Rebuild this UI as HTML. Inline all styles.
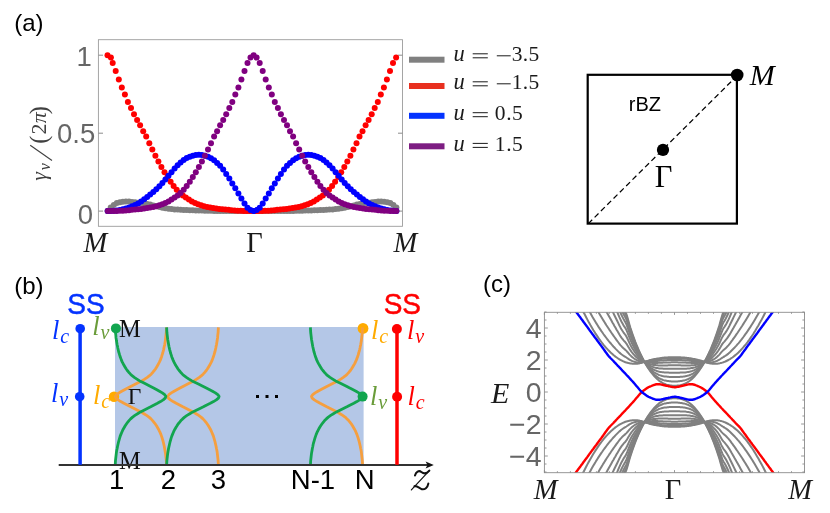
<!DOCTYPE html>
<html><head><meta charset="utf-8"><title>figure</title>
<style>html,body{margin:0;padding:0;background:#fff}svg{display:block;will-change:transform}</style></head>
<body><svg width="830" height="513" viewBox="0 0 830 513">
<rect width="830" height="513" fill="#fff"/>
<g id="pa">
<rect x="98.4" y="39.7" width="304.1" height="186.6" fill="none" stroke="#9c9c9c" stroke-width="0.9"/>
<path d="M98.5 211.1h4.5M402.5 211.1h-4.5" stroke="#8c8c8c" stroke-width="1" fill="none"/>
<path d="M98.5 133.2h4.5M402.5 133.2h-4.5" stroke="#8c8c8c" stroke-width="1" fill="none"/>
<path d="M98.5 55.2h4.5M402.5 55.2h-4.5" stroke="#8c8c8c" stroke-width="1" fill="none"/>
<g fill="#808080"><circle cx="107.7" cy="211.1" r="3.0"/><circle cx="110.7" cy="207.5" r="3.0"/><circle cx="113.8" cy="205.0" r="3.0"/><circle cx="116.8" cy="203.1" r="3.0"/><circle cx="119.9" cy="202.2" r="3.0"/><circle cx="122.9" cy="201.7" r="3.0"/><circle cx="125.9" cy="201.6" r="3.0"/><circle cx="129.0" cy="201.6" r="3.0"/><circle cx="132.0" cy="201.9" r="3.0"/><circle cx="135.1" cy="202.3" r="3.0"/><circle cx="138.1" cy="202.7" r="3.0"/><circle cx="141.1" cy="203.1" r="3.0"/><circle cx="144.2" cy="203.5" r="3.0"/><circle cx="147.2" cy="204.0" r="3.0"/><circle cx="150.2" cy="204.6" r="3.0"/><circle cx="153.3" cy="205.4" r="3.0"/><circle cx="156.3" cy="206.3" r="3.0"/><circle cx="159.4" cy="207.1" r="3.0"/><circle cx="162.4" cy="207.7" r="3.0"/><circle cx="165.4" cy="208.2" r="3.0"/><circle cx="168.5" cy="208.7" r="3.0"/><circle cx="171.5" cy="209.1" r="3.0"/><circle cx="174.6" cy="209.4" r="3.0"/><circle cx="177.6" cy="209.6" r="3.0"/><circle cx="180.6" cy="209.8" r="3.0"/><circle cx="183.7" cy="210.0" r="3.0"/><circle cx="186.7" cy="210.1" r="3.0"/><circle cx="189.8" cy="210.2" r="3.0"/><circle cx="192.8" cy="210.3" r="3.0"/><circle cx="195.8" cy="210.4" r="3.0"/><circle cx="198.9" cy="210.5" r="3.0"/><circle cx="201.9" cy="210.6" r="3.0"/><circle cx="204.9" cy="210.7" r="3.0"/><circle cx="208.0" cy="210.8" r="3.0"/><circle cx="211.0" cy="210.8" r="3.0"/><circle cx="214.1" cy="210.9" r="3.0"/><circle cx="217.1" cy="210.9" r="3.0"/><circle cx="220.1" cy="211.0" r="3.0"/><circle cx="223.2" cy="211.0" r="3.0"/><circle cx="226.2" cy="211.0" r="3.0"/><circle cx="229.3" cy="211.0" r="3.0"/><circle cx="232.3" cy="211.0" r="3.0"/><circle cx="235.3" cy="211.1" r="3.0"/><circle cx="238.4" cy="211.1" r="3.0"/><circle cx="241.4" cy="211.1" r="3.0"/><circle cx="244.5" cy="211.1" r="3.0"/><circle cx="247.5" cy="211.1" r="3.0"/><circle cx="250.5" cy="211.1" r="3.0"/><circle cx="253.6" cy="211.1" r="3.0"/><circle cx="256.6" cy="211.1" r="3.0"/><circle cx="259.7" cy="211.1" r="3.0"/><circle cx="262.7" cy="211.1" r="3.0"/><circle cx="265.7" cy="211.1" r="3.0"/><circle cx="268.8" cy="211.1" r="3.0"/><circle cx="271.8" cy="211.1" r="3.0"/><circle cx="274.8" cy="211.0" r="3.0"/><circle cx="277.9" cy="211.0" r="3.0"/><circle cx="280.9" cy="211.0" r="3.0"/><circle cx="284.0" cy="211.0" r="3.0"/><circle cx="287.0" cy="211.0" r="3.0"/><circle cx="290.0" cy="210.9" r="3.0"/><circle cx="293.1" cy="210.9" r="3.0"/><circle cx="296.1" cy="210.8" r="3.0"/><circle cx="299.2" cy="210.8" r="3.0"/><circle cx="302.2" cy="210.7" r="3.0"/><circle cx="305.2" cy="210.6" r="3.0"/><circle cx="308.3" cy="210.5" r="3.0"/><circle cx="311.3" cy="210.4" r="3.0"/><circle cx="314.4" cy="210.3" r="3.0"/><circle cx="317.4" cy="210.2" r="3.0"/><circle cx="320.4" cy="210.1" r="3.0"/><circle cx="323.5" cy="210.0" r="3.0"/><circle cx="326.5" cy="209.8" r="3.0"/><circle cx="329.5" cy="209.6" r="3.0"/><circle cx="332.6" cy="209.4" r="3.0"/><circle cx="335.6" cy="209.1" r="3.0"/><circle cx="338.7" cy="208.7" r="3.0"/><circle cx="341.7" cy="208.2" r="3.0"/><circle cx="344.7" cy="207.7" r="3.0"/><circle cx="347.8" cy="207.1" r="3.0"/><circle cx="350.8" cy="206.3" r="3.0"/><circle cx="353.9" cy="205.4" r="3.0"/><circle cx="356.9" cy="204.6" r="3.0"/><circle cx="359.9" cy="204.0" r="3.0"/><circle cx="363.0" cy="203.5" r="3.0"/><circle cx="366.0" cy="203.1" r="3.0"/><circle cx="369.1" cy="202.7" r="3.0"/><circle cx="372.1" cy="202.3" r="3.0"/><circle cx="375.1" cy="201.9" r="3.0"/><circle cx="378.2" cy="201.6" r="3.0"/><circle cx="381.2" cy="201.6" r="3.0"/><circle cx="384.2" cy="201.7" r="3.0"/><circle cx="387.3" cy="202.2" r="3.0"/><circle cx="390.3" cy="203.1" r="3.0"/><circle cx="393.4" cy="205.0" r="3.0"/><circle cx="396.4" cy="207.5" r="3.0"/></g>
<g fill="#ff0000"><circle cx="107.5" cy="55.2" r="3.0"/><circle cx="110.9" cy="57.6" r="3.0"/><circle cx="112.7" cy="63.0" r="3.0"/><circle cx="115.7" cy="70.9" r="3.0"/><circle cx="118.8" cy="79.4" r="3.0"/><circle cx="121.8" cy="87.4" r="3.0"/><circle cx="124.9" cy="94.5" r="3.0"/><circle cx="127.9" cy="101.9" r="3.0"/><circle cx="131.0" cy="108.1" r="3.0"/><circle cx="134.0" cy="114.3" r="3.0"/><circle cx="137.1" cy="120.0" r="3.0"/><circle cx="140.1" cy="125.3" r="3.0"/><circle cx="143.2" cy="131.3" r="3.0"/><circle cx="146.2" cy="136.4" r="3.0"/><circle cx="149.3" cy="143.3" r="3.0"/><circle cx="152.3" cy="149.6" r="3.0"/><circle cx="155.4" cy="155.7" r="3.0"/><circle cx="158.4" cy="161.4" r="3.0"/><circle cx="161.4" cy="166.9" r="3.0"/><circle cx="164.5" cy="172.2" r="3.0"/><circle cx="167.5" cy="177.1" r="3.0"/><circle cx="170.6" cy="181.7" r="3.0"/><circle cx="173.6" cy="186.0" r="3.0"/><circle cx="176.7" cy="189.8" r="3.0"/><circle cx="179.7" cy="192.9" r="3.0"/><circle cx="182.8" cy="195.4" r="3.0"/><circle cx="185.8" cy="197.6" r="3.0"/><circle cx="188.9" cy="199.6" r="3.0"/><circle cx="191.9" cy="201.4" r="3.0"/><circle cx="195.0" cy="203.0" r="3.0"/><circle cx="198.0" cy="204.3" r="3.0"/><circle cx="201.1" cy="205.3" r="3.0"/><circle cx="204.1" cy="206.2" r="3.0"/><circle cx="207.2" cy="206.9" r="3.0"/><circle cx="210.2" cy="207.6" r="3.0"/><circle cx="213.2" cy="208.1" r="3.0"/><circle cx="216.3" cy="208.6" r="3.0"/><circle cx="219.3" cy="209.0" r="3.0"/><circle cx="222.4" cy="209.3" r="3.0"/><circle cx="225.4" cy="209.5" r="3.0"/><circle cx="228.5" cy="209.8" r="3.0"/><circle cx="231.5" cy="210.2" r="3.0"/><circle cx="234.6" cy="210.5" r="3.0"/><circle cx="237.6" cy="210.7" r="3.0"/><circle cx="240.7" cy="210.8" r="3.0"/><circle cx="243.7" cy="210.9" r="3.0"/><circle cx="246.8" cy="211.0" r="3.0"/><circle cx="249.8" cy="211.1" r="3.0"/><circle cx="252.9" cy="211.1" r="3.0"/><circle cx="255.9" cy="211.1" r="3.0"/><circle cx="258.9" cy="211.0" r="3.0"/><circle cx="262.0" cy="210.9" r="3.0"/><circle cx="265.0" cy="210.8" r="3.0"/><circle cx="268.1" cy="210.7" r="3.0"/><circle cx="271.1" cy="210.5" r="3.0"/><circle cx="274.2" cy="210.2" r="3.0"/><circle cx="277.2" cy="209.8" r="3.0"/><circle cx="280.3" cy="209.5" r="3.0"/><circle cx="283.3" cy="209.3" r="3.0"/><circle cx="286.4" cy="209.0" r="3.0"/><circle cx="289.4" cy="208.6" r="3.0"/><circle cx="292.5" cy="208.1" r="3.0"/><circle cx="295.5" cy="207.6" r="3.0"/><circle cx="298.6" cy="206.9" r="3.0"/><circle cx="301.6" cy="206.2" r="3.0"/><circle cx="304.7" cy="205.3" r="3.0"/><circle cx="307.7" cy="204.3" r="3.0"/><circle cx="310.7" cy="203.0" r="3.0"/><circle cx="313.8" cy="201.4" r="3.0"/><circle cx="316.8" cy="199.6" r="3.0"/><circle cx="319.9" cy="197.6" r="3.0"/><circle cx="322.9" cy="195.4" r="3.0"/><circle cx="326.0" cy="192.9" r="3.0"/><circle cx="329.0" cy="189.8" r="3.0"/><circle cx="332.1" cy="186.0" r="3.0"/><circle cx="335.1" cy="181.7" r="3.0"/><circle cx="338.2" cy="177.1" r="3.0"/><circle cx="341.2" cy="172.2" r="3.0"/><circle cx="344.3" cy="166.9" r="3.0"/><circle cx="347.3" cy="161.4" r="3.0"/><circle cx="350.4" cy="155.7" r="3.0"/><circle cx="353.4" cy="149.6" r="3.0"/><circle cx="356.5" cy="143.3" r="3.0"/><circle cx="359.5" cy="136.4" r="3.0"/><circle cx="362.5" cy="131.3" r="3.0"/><circle cx="365.6" cy="125.3" r="3.0"/><circle cx="368.6" cy="120.0" r="3.0"/><circle cx="371.7" cy="114.3" r="3.0"/><circle cx="374.7" cy="108.1" r="3.0"/><circle cx="377.8" cy="101.9" r="3.0"/><circle cx="380.8" cy="94.5" r="3.0"/><circle cx="383.9" cy="87.4" r="3.0"/><circle cx="386.9" cy="79.4" r="3.0"/><circle cx="390.0" cy="70.9" r="3.0"/><circle cx="393.0" cy="63.0" r="3.0"/><circle cx="396.1" cy="57.6" r="3.0"/></g>
<g fill="#0000ff"><circle cx="107.7" cy="211.1" r="3.0"/><circle cx="110.7" cy="211.0" r="3.0"/><circle cx="113.8" cy="210.8" r="3.0"/><circle cx="116.8" cy="210.5" r="3.0"/><circle cx="119.9" cy="210.0" r="3.0"/><circle cx="122.9" cy="209.3" r="3.0"/><circle cx="125.9" cy="208.5" r="3.0"/><circle cx="129.0" cy="207.5" r="3.0"/><circle cx="132.0" cy="206.3" r="3.0"/><circle cx="135.1" cy="204.9" r="3.0"/><circle cx="138.1" cy="203.4" r="3.0"/><circle cx="141.1" cy="201.5" r="3.0"/><circle cx="144.2" cy="199.3" r="3.0"/><circle cx="147.2" cy="197.0" r="3.0"/><circle cx="150.2" cy="194.6" r="3.0"/><circle cx="153.3" cy="192.1" r="3.0"/><circle cx="156.3" cy="189.3" r="3.0"/><circle cx="159.4" cy="186.3" r="3.0"/><circle cx="162.4" cy="183.1" r="3.0"/><circle cx="165.4" cy="179.4" r="3.0"/><circle cx="168.5" cy="175.7" r="3.0"/><circle cx="171.5" cy="172.2" r="3.0"/><circle cx="174.6" cy="168.6" r="3.0"/><circle cx="177.6" cy="165.3" r="3.0"/><circle cx="180.6" cy="162.6" r="3.0"/><circle cx="183.7" cy="160.1" r="3.0"/><circle cx="186.7" cy="158.0" r="3.0"/><circle cx="189.8" cy="156.7" r="3.0"/><circle cx="192.8" cy="155.7" r="3.0"/><circle cx="195.8" cy="154.9" r="3.0"/><circle cx="198.9" cy="154.7" r="3.0"/><circle cx="201.9" cy="155.0" r="3.0"/><circle cx="204.9" cy="155.8" r="3.0"/><circle cx="208.0" cy="156.8" r="3.0"/><circle cx="211.0" cy="158.2" r="3.0"/><circle cx="214.1" cy="160.3" r="3.0"/><circle cx="217.1" cy="162.9" r="3.0"/><circle cx="220.1" cy="165.8" r="3.0"/><circle cx="223.2" cy="169.6" r="3.0"/><circle cx="226.2" cy="173.9" r="3.0"/><circle cx="229.3" cy="178.4" r="3.0"/><circle cx="232.3" cy="183.4" r="3.0"/><circle cx="235.3" cy="188.3" r="3.0"/><circle cx="238.4" cy="193.6" r="3.0"/><circle cx="241.4" cy="198.4" r="3.0"/><circle cx="244.5" cy="203.5" r="3.0"/><circle cx="247.5" cy="207.8" r="3.0"/><circle cx="250.5" cy="210.1" r="3.0"/><circle cx="253.6" cy="211.1" r="3.0"/><circle cx="256.6" cy="210.1" r="3.0"/><circle cx="259.7" cy="207.8" r="3.0"/><circle cx="262.7" cy="203.5" r="3.0"/><circle cx="265.7" cy="198.4" r="3.0"/><circle cx="268.8" cy="193.6" r="3.0"/><circle cx="271.8" cy="188.3" r="3.0"/><circle cx="274.8" cy="183.4" r="3.0"/><circle cx="277.9" cy="178.4" r="3.0"/><circle cx="280.9" cy="173.9" r="3.0"/><circle cx="284.0" cy="169.6" r="3.0"/><circle cx="287.0" cy="165.8" r="3.0"/><circle cx="290.0" cy="162.9" r="3.0"/><circle cx="293.1" cy="160.3" r="3.0"/><circle cx="296.1" cy="158.2" r="3.0"/><circle cx="299.2" cy="156.8" r="3.0"/><circle cx="302.2" cy="155.8" r="3.0"/><circle cx="305.2" cy="155.0" r="3.0"/><circle cx="308.3" cy="154.7" r="3.0"/><circle cx="311.3" cy="154.9" r="3.0"/><circle cx="314.4" cy="155.7" r="3.0"/><circle cx="317.4" cy="156.7" r="3.0"/><circle cx="320.4" cy="158.0" r="3.0"/><circle cx="323.5" cy="160.1" r="3.0"/><circle cx="326.5" cy="162.6" r="3.0"/><circle cx="329.5" cy="165.3" r="3.0"/><circle cx="332.6" cy="168.6" r="3.0"/><circle cx="335.6" cy="172.2" r="3.0"/><circle cx="338.7" cy="175.7" r="3.0"/><circle cx="341.7" cy="179.4" r="3.0"/><circle cx="344.7" cy="183.1" r="3.0"/><circle cx="347.8" cy="186.3" r="3.0"/><circle cx="350.8" cy="189.3" r="3.0"/><circle cx="353.9" cy="192.1" r="3.0"/><circle cx="356.9" cy="194.6" r="3.0"/><circle cx="359.9" cy="197.0" r="3.0"/><circle cx="363.0" cy="199.3" r="3.0"/><circle cx="366.0" cy="201.5" r="3.0"/><circle cx="369.1" cy="203.4" r="3.0"/><circle cx="372.1" cy="204.9" r="3.0"/><circle cx="375.1" cy="206.3" r="3.0"/><circle cx="378.2" cy="207.5" r="3.0"/><circle cx="381.2" cy="208.5" r="3.0"/><circle cx="384.2" cy="209.3" r="3.0"/><circle cx="387.3" cy="210.0" r="3.0"/><circle cx="390.3" cy="210.5" r="3.0"/><circle cx="393.4" cy="210.8" r="3.0"/><circle cx="396.4" cy="211.0" r="3.0"/></g>
<g fill="#800080"><circle cx="107.7" cy="211.1" r="3.0"/><circle cx="110.7" cy="211.1" r="3.0"/><circle cx="113.8" cy="211.0" r="3.0"/><circle cx="116.8" cy="210.9" r="3.0"/><circle cx="119.9" cy="210.8" r="3.0"/><circle cx="122.9" cy="210.7" r="3.0"/><circle cx="125.9" cy="210.5" r="3.0"/><circle cx="129.0" cy="210.2" r="3.0"/><circle cx="132.0" cy="209.8" r="3.0"/><circle cx="135.1" cy="209.5" r="3.0"/><circle cx="138.1" cy="209.3" r="3.0"/><circle cx="141.1" cy="209.0" r="3.0"/><circle cx="144.2" cy="208.6" r="3.0"/><circle cx="147.2" cy="208.1" r="3.0"/><circle cx="150.2" cy="207.6" r="3.0"/><circle cx="153.3" cy="206.9" r="3.0"/><circle cx="156.3" cy="206.2" r="3.0"/><circle cx="159.4" cy="205.3" r="3.0"/><circle cx="162.4" cy="204.3" r="3.0"/><circle cx="165.4" cy="203.0" r="3.0"/><circle cx="168.5" cy="201.4" r="3.0"/><circle cx="171.5" cy="199.6" r="3.0"/><circle cx="174.6" cy="197.6" r="3.0"/><circle cx="177.6" cy="195.4" r="3.0"/><circle cx="180.6" cy="192.9" r="3.0"/><circle cx="183.7" cy="189.8" r="3.0"/><circle cx="186.7" cy="186.0" r="3.0"/><circle cx="189.8" cy="181.7" r="3.0"/><circle cx="192.8" cy="177.1" r="3.0"/><circle cx="195.8" cy="172.2" r="3.0"/><circle cx="198.9" cy="166.9" r="3.0"/><circle cx="201.9" cy="161.4" r="3.0"/><circle cx="204.9" cy="155.7" r="3.0"/><circle cx="208.0" cy="149.6" r="3.0"/><circle cx="211.0" cy="143.3" r="3.0"/><circle cx="214.1" cy="136.4" r="3.0"/><circle cx="217.1" cy="131.3" r="3.0"/><circle cx="220.1" cy="125.3" r="3.0"/><circle cx="223.2" cy="120.0" r="3.0"/><circle cx="226.2" cy="114.3" r="3.0"/><circle cx="229.3" cy="108.1" r="3.0"/><circle cx="232.3" cy="101.9" r="3.0"/><circle cx="235.3" cy="94.5" r="3.0"/><circle cx="238.4" cy="87.4" r="3.0"/><circle cx="241.4" cy="79.4" r="3.0"/><circle cx="244.5" cy="70.9" r="3.0"/><circle cx="247.5" cy="63.0" r="3.0"/><circle cx="250.5" cy="57.6" r="3.0"/><circle cx="253.6" cy="55.2" r="3.0"/><circle cx="256.6" cy="57.6" r="3.0"/><circle cx="259.7" cy="63.0" r="3.0"/><circle cx="262.7" cy="70.9" r="3.0"/><circle cx="265.7" cy="79.4" r="3.0"/><circle cx="268.8" cy="87.4" r="3.0"/><circle cx="271.8" cy="94.5" r="3.0"/><circle cx="274.8" cy="101.9" r="3.0"/><circle cx="277.9" cy="108.1" r="3.0"/><circle cx="280.9" cy="114.3" r="3.0"/><circle cx="284.0" cy="120.0" r="3.0"/><circle cx="287.0" cy="125.3" r="3.0"/><circle cx="290.0" cy="131.3" r="3.0"/><circle cx="293.1" cy="136.4" r="3.0"/><circle cx="296.1" cy="143.3" r="3.0"/><circle cx="299.2" cy="149.6" r="3.0"/><circle cx="302.2" cy="155.7" r="3.0"/><circle cx="305.2" cy="161.4" r="3.0"/><circle cx="308.3" cy="166.9" r="3.0"/><circle cx="311.3" cy="172.2" r="3.0"/><circle cx="314.4" cy="177.1" r="3.0"/><circle cx="317.4" cy="181.7" r="3.0"/><circle cx="320.4" cy="186.0" r="3.0"/><circle cx="323.5" cy="189.8" r="3.0"/><circle cx="326.5" cy="192.9" r="3.0"/><circle cx="329.5" cy="195.4" r="3.0"/><circle cx="332.6" cy="197.6" r="3.0"/><circle cx="335.6" cy="199.6" r="3.0"/><circle cx="338.7" cy="201.4" r="3.0"/><circle cx="341.7" cy="203.0" r="3.0"/><circle cx="344.7" cy="204.3" r="3.0"/><circle cx="347.8" cy="205.3" r="3.0"/><circle cx="350.8" cy="206.2" r="3.0"/><circle cx="353.9" cy="206.9" r="3.0"/><circle cx="356.9" cy="207.6" r="3.0"/><circle cx="359.9" cy="208.1" r="3.0"/><circle cx="363.0" cy="208.6" r="3.0"/><circle cx="366.0" cy="209.0" r="3.0"/><circle cx="369.1" cy="209.3" r="3.0"/><circle cx="372.1" cy="209.5" r="3.0"/><circle cx="375.1" cy="209.8" r="3.0"/><circle cx="378.2" cy="210.2" r="3.0"/><circle cx="381.2" cy="210.5" r="3.0"/><circle cx="384.2" cy="210.7" r="3.0"/><circle cx="387.3" cy="210.8" r="3.0"/><circle cx="390.3" cy="210.9" r="3.0"/><circle cx="393.4" cy="211.0" r="3.0"/><circle cx="396.4" cy="211.1" r="3.0"/></g>
<g font-family="Liberation Sans, sans-serif" font-size="27.5" fill="#666666" text-anchor="end">
<text x="91.8" y="65.6">1</text><text x="95.2" y="143.4">0.5</text><text x="93" y="223.5">0</text></g>
<g font-family="Liberation Serif, serif" font-style="italic" font-size="28.5" fill="#1a1a1a">
<text x="83.4" y="251.8">M</text><text x="393.4" y="251.8">M</text></g>
<text font-family="Liberation Serif, serif" font-size="28.5" fill="#1a1a1a" x="246.3" y="251.8">Γ</text>
<g transform="translate(46.4,180.8) rotate(-90)" fill="#404040" font-family="Liberation Serif, serif" font-size="22"><text x="0" y="0" font-style="italic">γ</text><text x="10.6" y="3.6" font-style="italic" font-size="16">v</text><path d="M20.3 5.6L35.6 -16.2" stroke="#404040" stroke-width="1.1" fill="none"/><text x="37" y="0.8" font-size="24.5">(</text><text x="46.4" y="0">2</text><text x="57.6" y="0" font-style="italic">π</text><text x="66.6" y="0.8" font-size="24.5">)</text></g>
<rect x="409" y="56.7" width="35.5" height="6" fill="#808080"/>
<rect x="409" y="83.0" width="35.5" height="6" fill="#e8301f"/>
<rect x="409" y="112.8" width="35.5" height="6" fill="#0433ff"/>
<rect x="409" y="143.3" width="35.5" height="6" fill="#7d1d82"/>
<text font-family="Liberation Serif, serif" font-size="21.5" fill="#1a1a1a" y="61.4"><tspan x="453.6" font-style="italic" font-size="22.5">u</tspan><tspan x="511.8">3</tspan><tspan x="522.8">.</tspan><tspan x="528.6">5</tspan></text>
<path d="M472.7 53.8h15.1M472.7 57.8h15.1M496.8 55.8h13.9" stroke="#1a1a1a" stroke-width="1" fill="none"/>
<text font-family="Liberation Serif, serif" font-size="21.5" fill="#1a1a1a" y="89.4"><tspan x="453.6" font-style="italic" font-size="22.5">u</tspan><tspan x="511.8">1</tspan><tspan x="522.8">.</tspan><tspan x="528.6">5</tspan></text>
<path d="M472.7 81.8h15.1M472.7 85.8h15.1M496.8 83.8h13.9" stroke="#1a1a1a" stroke-width="1" fill="none"/>
<text font-family="Liberation Serif, serif" font-size="21.5" fill="#1a1a1a" y="120.3"><tspan x="453.6" font-style="italic" font-size="22.5">u</tspan><tspan x="494.8">0</tspan><tspan x="506.2">.</tspan><tspan x="512">5</tspan></text>
<path d="M472.7 112.7h15.1M472.7 116.7h15.1" stroke="#1a1a1a" stroke-width="1" fill="none"/>
<text font-family="Liberation Serif, serif" font-size="21.5" fill="#1a1a1a" y="151"><tspan x="453.6" font-style="italic" font-size="22.5">u</tspan><tspan x="494.8">1</tspan><tspan x="506.2">.</tspan><tspan x="512">5</tspan></text>
<path d="M472.7 143.4h15.1M472.7 147.4h15.1" stroke="#1a1a1a" stroke-width="1" fill="none"/>
</g>
<g id="bz">
<rect x="587.7" y="74.8" width="149.2" height="148.8" fill="none" stroke="#000" stroke-width="2.2"/>
<path d="M588.3 223.6L737.8 75" stroke="#000" stroke-width="1.25" stroke-dasharray="5.5 3.4" fill="none"/>
<circle cx="737.2" cy="75" r="6.3"/><circle cx="663" cy="149.9" r="6.1"/>
<text font-family="Liberation Sans, sans-serif" font-size="20" x="628.8" y="110.6">rBZ</text>
<text font-family="Liberation Serif, serif" font-style="italic" font-size="30" x="749.8" y="84.6">M</text>
<text font-family="Liberation Serif, serif" font-size="30.5" x="654.8" y="187">Γ</text>
</g>
<g id="pb">
<rect x="115" y="327" width="248.6" height="138" fill="#b4c7e7"/>
<circle cx="115.9" cy="328.4" r="5.0" fill="#12a54f"/><circle cx="114.0" cy="396.7" r="5.2" fill="#ffab00"/>
<circle cx="363" cy="328.4" r="5.4" fill="#ffab00"/><circle cx="362.6" cy="396.6" r="5.0" fill="#12a54f"/>
<path d="M166.6 327.3L166.5 329.0L166.4 330.8L166.3 332.5L166.1 334.2L165.9 335.9L165.7 337.7L165.5 339.4L165.3 341.1L165.0 342.8L164.7 344.6L164.3 346.3L163.9 348.0L163.6 349.8L163.1 351.5L162.7 353.2L162.1 354.9L161.6 356.7L161.0 358.4L160.3 360.1L159.5 361.9L158.6 363.6L157.7 365.3L156.7 367.0L155.6 368.8L154.3 370.5L152.9 372.2L151.4 373.9L149.5 375.7L147.3 377.4L144.7 379.1L141.8 380.9L138.5 382.6L135.1 384.3L131.7 386.0L128.3 387.8L125.0 389.5L121.7 391.2L119.0 392.9L116.6 394.7L115.3 396.4L116.0 398.1L118.1 399.9L120.8 401.6L123.9 403.3L127.3 405.0L130.7 406.8L134.1 408.5L137.5 410.2L141.0 411.9L143.9 413.7L146.6 415.4L149.0 417.1L151.0 418.9L152.6 420.6L154.0 422.3L155.3 424.0L156.5 425.8L157.5 427.5L158.5 429.2L159.3 430.9L160.2 432.7L160.9 434.4L161.5 436.1L162.1 437.9L162.6 439.6L163.1 441.3L163.5 443.0L163.9 444.8L164.3 446.5L164.6 448.2L164.9 450.0L165.2 451.7L165.5 453.4L165.7 455.1L165.9 456.9L166.1 458.6L166.3 460.3L166.4 462.0L166.5 463.8L166.6 465.5" stroke="#f59f3f" stroke-width="2.8" fill="none" stroke-linejoin="round"/>
<path d="M218.4 327.3L218.3 329.0L218.2 330.8L218.1 332.5L217.9 334.2L217.7 335.9L217.6 337.7L217.3 339.4L217.1 341.1L216.8 342.8L216.5 344.6L216.1 346.3L215.8 348.0L215.4 349.8L215.0 351.5L214.5 353.2L214.0 354.9L213.4 356.7L212.8 358.4L212.2 360.1L211.4 361.9L210.5 363.6L209.6 365.3L208.6 367.0L207.5 368.8L206.3 370.5L204.9 372.2L203.3 373.9L201.5 375.7L199.3 377.4L196.7 379.1L193.9 380.9L190.6 382.6L187.2 384.3L183.9 386.0L180.5 387.8L177.2 389.5L174.1 391.2L171.3 392.9L168.9 394.7L167.7 396.4L168.4 398.1L170.4 399.9L173.1 401.6L176.2 403.3L179.5 405.0L182.9 406.8L186.3 408.5L189.7 410.2L193.1 411.9L196.0 413.7L198.7 415.4L201.0 417.1L203.0 418.9L204.6 420.6L206.0 422.3L207.2 424.0L208.4 425.8L209.4 427.5L210.4 429.2L211.2 430.9L212.0 432.7L212.7 434.4L213.4 436.1L213.9 437.9L214.4 439.6L214.9 441.3L215.3 443.0L215.7 444.8L216.1 446.5L216.4 448.2L216.8 450.0L217.1 451.7L217.3 453.4L217.5 455.1L217.7 456.9L217.9 458.6L218.1 460.3L218.2 462.0L218.3 463.8L218.4 465.5" stroke="#f59f3f" stroke-width="2.8" fill="none" stroke-linejoin="round"/>
<path d="M362.6 327.3L362.5 329.0L362.4 330.8L362.3 332.5L362.1 334.2L361.9 335.9L361.7 337.7L361.5 339.4L361.3 341.1L361.0 342.8L360.7 344.6L360.3 346.3L360.0 348.0L359.6 349.8L359.1 351.5L358.7 353.2L358.2 354.9L357.6 356.7L357.0 358.4L356.3 360.1L355.5 361.9L354.7 363.6L353.7 365.3L352.7 367.0L351.6 368.8L350.4 370.5L349.0 372.2L347.4 373.9L345.6 375.7L343.3 377.4L340.8 379.1L337.9 380.9L334.6 382.6L331.2 384.3L327.8 386.0L324.4 387.8L321.1 389.5L317.9 391.2L315.1 392.9L312.8 394.7L311.5 396.4L312.2 398.1L314.3 399.9L317.0 401.6L320.1 403.3L323.4 405.0L326.8 406.8L330.2 408.5L333.7 410.2L337.1 411.9L340.0 413.7L342.7 415.4L345.1 417.1L347.0 418.9L348.7 420.6L350.1 422.3L351.4 424.0L352.5 425.8L353.5 427.5L354.5 429.2L355.4 430.9L356.2 432.7L356.9 434.4L357.5 436.1L358.1 437.9L358.6 439.6L359.1 441.3L359.5 443.0L359.9 444.8L360.3 446.5L360.6 448.2L361.0 450.0L361.3 451.7L361.5 453.4L361.7 455.1L361.9 456.9L362.1 458.6L362.3 460.3L362.4 462.0L362.5 463.8L362.6 465.5" stroke="#f59f3f" stroke-width="2.8" fill="none" stroke-linejoin="round"/>
<path d="M270.0 327.3L269.9 329.0L269.8 330.8L269.7 332.5L269.6 334.2L269.5 335.9L269.3 337.7L269.2 339.4L269.0 341.1L268.7 342.8L268.5 344.6L268.2 346.3L267.9 348.0L267.6 349.8L267.3 351.5L266.9 353.2L266.5 354.9L266.1 356.7L265.6 358.4L265.1 360.1L264.5 361.9L263.8 363.6L263.1 365.3L262.3 367.0L261.4 368.8L260.4 370.5L259.4 372.2L258.1 373.9L256.7 375.7L255.0 377.4L252.9 379.1L250.7 380.9L248.1 382.6L245.5 384.3L242.8 386.0L240.2 387.8L237.6 389.5L235.1 391.2L232.9 392.9L231.1 394.7L230.1 396.4L230.6 398.1L232.2 399.9L234.4 401.6L236.8 403.3L239.4 405.0L242.0 406.8L244.7 408.5L247.4 410.2L250.1 411.9L252.4 413.7L254.5 415.4L256.3 417.1L257.8 418.9L259.1 420.6L260.2 422.3L261.2 424.0L262.1 425.8L262.9 427.5L263.7 429.2L264.4 430.9L265.0 432.7L265.5 434.4L266.0 436.1L266.5 437.9L266.9 439.6L267.2 441.3L267.6 443.0L267.9 444.8L268.2 446.5L268.5 448.2L268.7 450.0L268.9 451.7L269.2 453.4L269.3 455.1L269.5 456.9L269.6 458.6L269.7 460.3L269.8 462.0L269.9 463.8L270.0 465.5" stroke="#f59f3f" stroke-width="2.3" fill="none" opacity="0"/>
<path d="M115.2 327.3L115.3 329.0L115.4 330.8L115.5 332.5L115.7 334.2L115.9 335.9L116.0 337.7L116.3 339.4L116.5 341.1L116.8 342.8L117.1 344.6L117.5 346.3L117.8 348.0L118.2 349.8L118.6 351.5L119.1 353.2L119.6 354.9L120.2 356.7L120.8 358.4L121.4 360.1L122.2 361.9L123.1 363.6L124.0 365.3L125.0 367.0L126.1 368.8L127.3 370.5L128.7 372.2L130.3 373.9L132.1 375.7L134.3 377.4L136.9 379.1L139.7 380.9L143.0 382.6L146.4 384.3L149.7 386.0L153.1 387.8L156.4 389.5L159.5 391.2L162.3 392.9L164.7 394.7L165.9 396.4L165.2 398.1L163.2 399.9L160.5 401.6L157.4 403.3L154.1 405.0L150.7 406.8L147.3 408.5L143.9 410.2L140.5 411.9L137.6 413.7L134.9 415.4L132.6 417.1L130.6 418.9L129.0 420.6L127.6 422.3L126.4 424.0L125.2 425.8L124.2 427.5L123.2 429.2L122.4 430.9L121.6 432.7L120.9 434.4L120.2 436.1L119.7 437.9L119.2 439.6L118.7 441.3L118.3 443.0L117.9 444.8L117.5 446.5L117.2 448.2L116.8 450.0L116.5 451.7L116.3 453.4L116.1 455.1L115.9 456.9L115.7 458.6L115.5 460.3L115.4 462.0L115.3 463.8L115.2 465.5" stroke="#12a54f" stroke-width="2.8" fill="none" stroke-linejoin="round"/>
<path d="M166.6 327.3L166.7 329.0L166.8 330.8L166.9 332.5L167.1 334.2L167.3 335.9L167.5 337.7L167.7 339.4L168.0 341.1L168.3 342.8L168.6 344.6L168.9 346.3L169.3 348.0L169.7 349.8L170.2 351.5L170.6 353.2L171.2 354.9L171.7 356.7L172.4 358.4L173.1 360.1L173.9 361.9L174.8 363.6L175.7 365.3L176.8 367.0L177.9 368.8L179.2 370.5L180.6 372.2L182.2 373.9L184.1 375.7L186.4 377.4L189.0 379.1L192.0 380.9L195.3 382.6L198.9 384.3L202.3 386.0L205.8 387.8L209.2 389.5L212.5 391.2L215.4 392.9L217.8 394.7L219.1 396.4L218.4 398.1L216.3 399.9L213.5 401.6L210.3 403.3L206.8 405.0L203.4 406.8L199.9 408.5L196.3 410.2L192.8 411.9L189.8 413.7L187.0 415.4L184.6 417.1L182.6 418.9L180.9 420.6L179.5 422.3L178.1 424.0L177.0 425.8L175.9 427.5L174.9 429.2L174.0 430.9L173.2 432.7L172.5 434.4L171.8 436.1L171.2 437.9L170.7 439.6L170.2 441.3L169.8 443.0L169.4 444.8L169.0 446.5L168.6 448.2L168.3 450.0L168.0 451.7L167.7 453.4L167.5 455.1L167.3 456.9L167.1 458.6L166.9 460.3L166.8 462.0L166.7 463.8L166.6 465.5" stroke="#12a54f" stroke-width="2.8" fill="none" stroke-linejoin="round"/>
<path d="M310.4 327.3L310.5 329.0L310.6 330.8L310.7 332.5L310.9 334.2L311.1 335.9L311.3 337.7L311.5 339.4L311.8 341.1L312.1 342.8L312.4 344.6L312.7 346.3L313.1 348.0L313.5 349.8L313.9 351.5L314.4 353.2L314.9 354.9L315.5 356.7L316.1 358.4L316.8 360.1L317.6 361.9L318.5 363.6L319.5 365.3L320.5 367.0L321.6 368.8L322.9 370.5L324.3 372.2L325.9 373.9L327.7 375.7L330.0 377.4L332.7 379.1L335.6 380.9L338.9 382.6L342.4 384.3L345.9 386.0L349.3 387.8L352.7 389.5L356.0 391.2L358.8 392.9L361.2 394.7L362.5 396.4L361.8 398.1L359.7 399.9L356.9 401.6L353.8 403.3L350.3 405.0L346.9 406.8L343.4 408.5L339.9 410.2L336.4 411.9L333.4 413.7L330.7 415.4L328.3 417.1L326.3 418.9L324.6 420.6L323.2 422.3L321.9 424.0L320.7 425.8L319.6 427.5L318.7 429.2L317.8 430.9L316.9 432.7L316.2 434.4L315.6 436.1L315.0 437.9L314.5 439.6L314.0 441.3L313.5 443.0L313.1 444.8L312.8 446.5L312.4 448.2L312.1 450.0L311.8 451.7L311.5 453.4L311.3 455.1L311.1 456.9L310.9 458.6L310.7 460.3L310.6 462.0L310.5 463.8L310.4 465.5" stroke="#12a54f" stroke-width="2.8" fill="none" stroke-linejoin="round"/>
<g font-family="Liberation Serif, serif" font-size="24.5" fill="#111"><text x="119" y="336.7">M</text><text x="127.8" y="403.8" font-size="23.5">Γ</text><text x="119" y="469.4">M</text></g>
<path d="M58.7 465H428" stroke="#333" stroke-width="1.8" fill="none"/>
<path d="M433.8 465l-8.2 -3.6l1.9 3.6l-1.9 3.6z" fill="#111"/>
<path d="M80.1 328.6V464.8" stroke="#0433ff" stroke-width="3.5" fill="none"/>
<circle cx="80.2" cy="328.7" r="4.8" fill="#0433ff"/><circle cx="79.7" cy="396.7" r="4.8" fill="#0433ff"/>
<path d="M397 329V464.8" stroke="#ff0000" stroke-width="3.5" fill="none"/>
<circle cx="396.9" cy="329" r="5.0" fill="#ff0000"/><circle cx="397.1" cy="396.8" r="5.0" fill="#ff0000"/>
<text font-family="Liberation Sans, sans-serif" font-size="28" fill="#0433ff" stroke="#0433ff" stroke-width="0.45" transform="translate(67.3,313.9) scale(1,1.05)">SS</text>
<text font-family="Liberation Sans, sans-serif" font-size="28" fill="#ff0000" stroke="#ff0000" stroke-width="0.45" transform="translate(383.7,313.9) scale(1,1.05)">SS</text>
<text font-family="Liberation Serif, serif" font-style="italic" font-size="26.5" fill="#0433ff" x="52" y="339">l<tspan font-size="20" dy="4" dx="0.8">c</tspan></text>
<text font-family="Liberation Serif, serif" font-style="italic" font-size="26.5" fill="#0433ff" x="51" y="401.6">l<tspan font-size="20" dy="4" dx="0.8">v</tspan></text>
<text font-family="Liberation Serif, serif" font-style="italic" font-size="26.5" fill="#6a9c3a" x="92.3" y="334.5">l<tspan font-size="20" dy="4" dx="0.8">v</tspan></text>
<text font-family="Liberation Serif, serif" font-style="italic" font-size="26.5" fill="#ffab00" x="93" y="404.2">l<tspan font-size="20" dy="4" dx="0.8">c</tspan></text>
<text font-family="Liberation Serif, serif" font-style="italic" font-size="26.5" fill="#ffab00" x="371" y="339.2">l<tspan font-size="20" dy="4" dx="0.8">c</tspan></text>
<text font-family="Liberation Serif, serif" font-style="italic" font-size="26.5" fill="#ff0000" x="407" y="339">l<tspan font-size="20" dy="4" dx="0.8">v</tspan></text>
<text font-family="Liberation Serif, serif" font-style="italic" font-size="26.5" fill="#6a9c3a" x="370" y="404.6">l<tspan font-size="20" dy="4" dx="0.8">v</tspan></text>
<text font-family="Liberation Serif, serif" font-style="italic" font-size="26.5" fill="#ff0000" x="407.5" y="404.9">l<tspan font-size="20" dy="4" dx="0.8">c</tspan></text>
<g font-family="Liberation Sans, sans-serif" font-size="27.5" fill="#000" text-anchor="middle"><text x="116.6" y="489.2">1</text><text x="168.4" y="489.2">2</text><text x="218.4" y="489.2">3</text><text x="313" y="489.2">N-1</text><text x="364.6" y="489.2">N</text></g>
<path d="M256 395h3v3h-3zM265.5 395h3v3h-3zM275 395h3v3h-3z" fill="#000"/>
<g transform="translate(395,450) scale(0.09747)" fill="none" stroke="#111" stroke-linecap="round"><path d="M205 262C215 225 245 205 270 225C295 245 320 250 352 212" stroke-width="21"/><path d="M355 208L168 410" stroke-width="12"/><path d="M200 372C225 362 250 395 275 402C305 410 335 385 342 345" stroke-width="21"/></g>
<text font-family="Liberation Sans, sans-serif" font-size="24" fill="#000" x="14.2" y="294.3">(b)</text>
</g>
<text font-family="Liberation Sans, sans-serif" font-size="24" fill="#000" x="14.2" y="30.7">(a)</text>
<text font-family="Liberation Sans, sans-serif" font-size="24" fill="#000" x="483" y="292.1">(c)</text>
<g id="pc">
<clipPath id="cc"><rect x="544.4" y="312.3" width="260.1" height="160.39999999999998"/></clipPath>
<g clip-path="url(#cc)" fill="none" stroke-linejoin="round">
<path d="M544.4 280.0L545.4 280.0L546.4 280.0L547.4 280.0L548.4 280.0L549.4 280.0L550.4 280.0L551.4 280.0L552.4 280.0L553.4 280.0L554.4 280.0L555.4 280.0L556.4 280.0L557.4 280.0L558.4 280.0L559.4 280.0L560.4 280.0L561.4 280.0L562.4 280.0L563.4 280.0L564.4 280.0L565.4 280.0L566.4 280.0L567.4 280.0L568.4 280.0L569.4 280.0L570.4 281.9L571.4 284.5L572.4 287.0L573.4 289.4L574.4 291.8L575.4 294.2L576.4 296.5L577.4 298.8L578.4 301.1L579.4 303.3L580.4 305.5L581.4 307.6L582.4 309.7L583.4 311.8L584.4 313.8L585.4 315.8L586.4 317.7L587.4 319.6L588.4 321.5L589.4 323.3L590.4 325.1L591.4 326.8L592.4 328.5L593.4 330.2L594.4 331.8L595.4 333.4L596.4 334.9L597.4 336.4L598.4 337.9L599.4 339.3L600.4 340.7L601.4 342.0L602.4 343.3L603.4 344.6L604.4 345.8L605.4 347.0L606.4 348.1L607.4 349.2L608.4 350.3L609.4 351.3L610.4 352.3L611.4 353.2L612.4 354.1L613.4 355.0L614.4 355.8L615.4 356.6L616.4 357.3L617.4 358.0L618.4 358.7L619.4 359.3L620.4 359.9L621.4 360.4L622.4 360.9L623.4 361.4L624.4 361.8L625.4 362.2L626.4 362.5L627.4 362.8L628.4 363.1L629.4 363.3L630.4 363.5L631.4 363.6L632.4 363.8L633.4 363.8L634.4 363.8L635.4 363.8L636.4 363.8L637.4 363.7L638.4 363.5L639.4 363.4L640.4 363.1L641.4 362.9L642.4 362.6L643.4 362.3L644.4 361.9L645.4 361.5L646.4 361.2L647.4 360.9L648.4 360.6L649.4 360.3L650.4 360.0L651.4 359.8L652.4 359.5L653.4 359.3L654.4 359.1L655.4 358.9L656.4 358.7L657.4 358.5L658.4 358.4L659.4 358.2L660.4 358.1L661.4 357.9L662.4 357.8L663.4 357.7L664.4 357.6L665.4 357.5L666.4 357.5L667.4 357.4L668.4 357.3L669.4 357.3L670.4 357.2L671.4 357.2L672.4 357.2L673.4 357.2L674.4 357.2L675.4 357.2L676.4 357.2L677.4 357.2L678.4 357.2L679.4 357.3L680.4 357.3L681.4 357.4L682.4 357.4L683.4 357.5L684.4 357.6L685.4 357.7L686.4 357.8L687.4 357.9L688.4 358.0L689.4 358.2L690.4 358.3L691.4 358.5L692.4 358.7L693.4 358.9L694.4 359.1L695.4 359.3L696.4 359.5L697.4 359.7L698.4 360.0L699.4 360.2L700.4 360.5L701.4 360.8L702.4 361.1L703.4 361.5L704.4 361.8L705.4 362.2L706.4 362.5L707.4 362.8L708.4 363.1L709.4 363.3L710.4 363.5L711.4 363.6L712.4 363.8L713.4 363.8L714.4 363.8L715.4 363.8L716.4 363.8L717.4 363.7L718.4 363.5L719.4 363.4L720.4 363.1L721.4 362.9L722.4 362.6L723.4 362.3L724.4 361.9L725.4 361.5L726.4 361.0L727.4 360.5L728.4 360.0L729.4 359.4L730.4 358.8L731.4 358.1L732.4 357.5L733.4 356.7L734.4 355.9L735.4 355.1L736.4 354.3L737.4 353.4L738.4 352.5L739.4 351.5L740.4 350.5L741.4 349.4L742.4 348.3L743.4 347.2L744.4 346.0L745.4 344.8L746.4 343.6L747.4 342.3L748.4 340.9L749.4 339.6L750.4 338.1L751.4 336.7L752.4 335.2L753.4 333.7L754.4 332.1L755.4 330.5L756.4 328.8L757.4 327.1L758.4 325.4L759.4 323.6L760.4 321.8L761.4 320.0L762.4 318.1L763.4 316.2L764.4 314.2L765.4 312.2L766.4 310.1L767.4 308.1L768.4 305.9L769.4 303.8L770.4 301.5L771.4 299.3L772.4 297.0L773.4 294.7L774.4 292.3L775.4 289.9L776.4 287.5L777.4 285.0L778.4 282.4L779.4 280.0L780.4 280.0L781.4 280.0L782.4 280.0L783.4 280.0L784.4 280.0L785.4 280.0L786.4 280.0L787.4 280.0L788.4 280.0L789.4 280.0L790.4 280.0L791.4 280.0L792.4 280.0L793.4 280.0L794.4 280.0L795.4 280.0L796.4 280.0L797.4 280.0L798.4 280.0L799.4 280.0L800.4 280.0L801.4 280.0L802.4 280.0L803.4 280.0L804.4 280.0" stroke="#808080" stroke-width="2.0"/>
<path d="M544.4 280.0L545.4 280.0L546.4 280.0L547.4 280.0L548.4 280.0L549.4 280.0L550.4 280.0L551.4 280.0L552.4 280.0L553.4 280.0L554.4 280.0L555.4 280.0L556.4 280.0L557.4 280.0L558.4 280.0L559.4 280.0L560.4 280.0L561.4 280.0L562.4 280.0L563.4 280.0L564.4 280.0L565.4 280.0L566.4 280.0L567.4 280.0L568.4 280.0L569.4 280.0L570.4 280.0L571.4 280.0L572.4 280.0L573.4 280.0L574.4 280.1L575.4 282.4L576.4 284.7L577.4 287.0L578.4 289.2L579.4 291.4L580.4 293.5L581.4 295.6L582.4 297.7L583.4 299.8L584.4 301.8L585.4 303.8L586.4 305.7L587.4 307.6L588.4 309.5L589.4 311.3L590.4 313.1L591.4 314.9L592.4 316.7L593.4 318.4L594.4 320.1L595.4 321.7L596.4 323.4L597.4 325.0L598.4 326.6L599.4 328.1L600.4 329.6L601.4 331.1L602.4 332.5L603.4 334.0L604.4 335.3L605.4 336.7L606.4 338.0L607.4 339.3L608.4 340.6L609.4 341.8L610.4 343.0L611.4 344.2L612.4 345.3L613.4 346.5L614.4 347.5L615.4 348.6L616.4 349.6L617.4 350.6L618.4 351.6L619.4 352.6L620.4 353.4L621.4 354.3L622.4 355.0L623.4 355.7L624.4 356.3L625.4 356.9L626.4 357.5L627.4 358.2L628.4 358.9L629.4 359.6L630.4 360.1L631.4 360.6L632.4 361.1L633.4 361.4L634.4 361.7L635.4 362.0L636.4 362.2L637.4 362.4L638.4 362.5L639.4 362.5L640.4 362.5L641.4 362.4L642.4 362.3L643.4 362.1L644.4 361.9L645.4 361.6L646.4 361.4L647.4 361.2L648.4 361.0L649.4 360.8L650.4 360.6L651.4 360.4L652.4 360.2L653.4 360.1L654.4 359.9L655.4 359.7L656.4 359.6L657.4 359.4L658.4 359.3L659.4 359.2L660.4 359.0L661.4 358.9L662.4 358.8L663.4 358.7L664.4 358.6L665.4 358.6L666.4 358.5L667.4 358.4L668.4 358.4L669.4 358.3L670.4 358.3L671.4 358.2L672.4 358.2L673.4 358.2L674.4 358.2L675.4 358.2L676.4 358.2L677.4 358.2L678.4 358.3L679.4 358.3L680.4 358.4L681.4 358.4L682.4 358.5L683.4 358.5L684.4 358.6L685.4 358.7L686.4 358.8L687.4 358.9L688.4 359.0L689.4 359.1L690.4 359.3L691.4 359.4L692.4 359.5L693.4 359.7L694.4 359.9L695.4 360.0L696.4 360.2L697.4 360.4L698.4 360.6L699.4 360.8L700.4 361.0L701.4 361.2L702.4 361.4L703.4 361.6L704.4 361.8L705.4 362.1L706.4 362.3L707.4 362.4L708.4 362.5L709.4 362.5L710.4 362.5L711.4 362.4L712.4 362.3L713.4 362.1L714.4 361.8L715.4 361.5L716.4 361.1L717.4 360.7L718.4 360.2L719.4 359.7L720.4 359.0L721.4 358.3L722.4 357.7L723.4 357.0L724.4 356.5L725.4 355.8L726.4 355.2L727.4 354.4L728.4 353.6L729.4 352.7L730.4 351.8L731.4 350.8L732.4 349.8L733.4 348.8L734.4 347.8L735.4 346.7L736.4 345.6L737.4 344.4L738.4 343.3L739.4 342.1L740.4 340.8L741.4 339.6L742.4 338.3L743.4 337.0L744.4 335.6L745.4 334.2L746.4 332.8L747.4 331.4L748.4 329.9L749.4 328.4L750.4 326.9L751.4 325.3L752.4 323.7L753.4 322.1L754.4 320.4L755.4 318.7L756.4 317.0L757.4 315.3L758.4 313.5L759.4 311.7L760.4 309.8L761.4 308.0L762.4 306.1L763.4 304.1L764.4 302.2L765.4 300.2L766.4 298.1L767.4 296.1L768.4 294.0L769.4 291.8L770.4 289.6L771.4 287.4L772.4 285.1L773.4 282.9L774.4 280.5L775.4 280.0L776.4 280.0L777.4 280.0L778.4 280.0L779.4 280.0L780.4 280.0L781.4 280.0L782.4 280.0L783.4 280.0L784.4 280.0L785.4 280.0L786.4 280.0L787.4 280.0L788.4 280.0L789.4 280.0L790.4 280.0L791.4 280.0L792.4 280.0L793.4 280.0L794.4 280.0L795.4 280.0L796.4 280.0L797.4 280.0L798.4 280.0L799.4 280.0L800.4 280.0L801.4 280.0L802.4 280.0L803.4 280.0L804.4 280.0" stroke="#808080" stroke-width="2.0"/>
<path d="M544.4 280.0L545.4 280.0L546.4 280.0L547.4 280.0L548.4 280.0L549.4 280.0L550.4 280.0L551.4 280.0L552.4 280.0L553.4 280.0L554.4 280.0L555.4 280.0L556.4 280.0L557.4 280.0L558.4 280.0L559.4 280.0L560.4 280.0L561.4 280.0L562.4 280.0L563.4 280.0L564.4 280.0L565.4 280.0L566.4 280.0L567.4 280.0L568.4 280.0L569.4 280.0L570.4 280.0L571.4 280.0L572.4 280.0L573.4 280.0L574.4 280.0L575.4 280.0L576.4 280.0L577.4 280.0L578.4 280.0L579.4 280.0L580.4 280.0L581.4 280.0L582.4 281.4L583.4 283.5L584.4 285.6L585.4 287.6L586.4 289.6L587.4 291.5L588.4 293.5L589.4 295.4L590.4 297.3L591.4 299.2L592.4 301.1L593.4 302.9L594.4 304.8L595.4 306.6L596.4 308.4L597.4 310.2L598.4 311.9L599.4 313.7L600.4 315.4L601.4 317.1L602.4 318.7L603.4 320.4L604.4 322.0L605.4 323.6L606.4 325.2L607.4 326.7L608.4 328.2L609.4 329.8L610.4 331.2L611.4 332.7L612.4 334.2L613.4 335.6L614.4 337.0L615.4 338.4L616.4 339.8L617.4 341.2L618.4 342.5L619.4 343.8L620.4 345.1L621.4 346.2L622.4 347.3L623.4 348.2L624.4 349.1L625.4 349.9L626.4 350.9L627.4 352.0L628.4 353.2L629.4 354.4L630.4 355.4L631.4 356.4L632.4 357.2L633.4 358.0L634.4 358.7L635.4 359.4L636.4 359.9L637.4 360.4L638.4 360.8L639.4 361.2L640.4 361.5L641.4 361.7L642.4 361.8L643.4 361.9L644.4 361.9L645.4 361.8L646.4 361.8L647.4 361.8L648.4 361.7L649.4 361.6L650.4 361.5L651.4 361.5L652.4 361.4L653.4 361.3L654.4 361.2L655.4 361.1L656.4 361.0L657.4 360.9L658.4 360.8L659.4 360.7L660.4 360.6L661.4 360.5L662.4 360.4L663.4 360.4L664.4 360.3L665.4 360.2L666.4 360.2L667.4 360.1L668.4 360.1L669.4 360.0L670.4 360.0L671.4 360.0L672.4 360.0L673.4 359.9L674.4 359.9L675.4 359.9L676.4 360.0L677.4 360.0L678.4 360.0L679.4 360.0L680.4 360.1L681.4 360.1L682.4 360.2L683.4 360.2L684.4 360.3L685.4 360.4L686.4 360.4L687.4 360.5L688.4 360.6L689.4 360.7L690.4 360.8L691.4 360.9L692.4 361.0L693.4 361.1L694.4 361.2L695.4 361.3L696.4 361.3L697.4 361.4L698.4 361.5L699.4 361.6L700.4 361.7L701.4 361.7L702.4 361.8L703.4 361.8L704.4 361.9L705.4 361.9L706.4 361.8L707.4 361.7L708.4 361.5L709.4 361.3L710.4 360.9L711.4 360.5L712.4 360.0L713.4 359.5L714.4 358.9L715.4 358.2L716.4 357.4L717.4 356.5L718.4 355.6L719.4 354.6L720.4 353.4L721.4 352.2L722.4 351.1L723.4 350.1L724.4 349.3L725.4 348.4L726.4 347.5L727.4 346.4L728.4 345.3L729.4 344.1L730.4 342.8L731.4 341.4L732.4 340.1L733.4 338.7L734.4 337.3L735.4 335.9L736.4 334.4L737.4 333.0L738.4 331.5L739.4 330.0L740.4 328.5L741.4 327.0L742.4 325.5L743.4 323.9L744.4 322.3L745.4 320.7L746.4 319.1L747.4 317.4L748.4 315.7L749.4 314.0L750.4 312.3L751.4 310.5L752.4 308.8L753.4 307.0L754.4 305.1L755.4 303.3L756.4 301.4L757.4 299.6L758.4 297.7L759.4 295.8L760.4 293.9L761.4 291.9L762.4 290.0L763.4 288.0L764.4 286.0L765.4 283.9L766.4 281.8L767.4 280.0L768.4 280.0L769.4 280.0L770.4 280.0L771.4 280.0L772.4 280.0L773.4 280.0L774.4 280.0L775.4 280.0L776.4 280.0L777.4 280.0L778.4 280.0L779.4 280.0L780.4 280.0L781.4 280.0L782.4 280.0L783.4 280.0L784.4 280.0L785.4 280.0L786.4 280.0L787.4 280.0L788.4 280.0L789.4 280.0L790.4 280.0L791.4 280.0L792.4 280.0L793.4 280.0L794.4 280.0L795.4 280.0L796.4 280.0L797.4 280.0L798.4 280.0L799.4 280.0L800.4 280.0L801.4 280.0L802.4 280.0L803.4 280.0L804.4 280.0" stroke="#808080" stroke-width="2.0"/>
<path d="M544.4 280.0L545.4 280.0L546.4 280.0L547.4 280.0L548.4 280.0L549.4 280.0L550.4 280.0L551.4 280.0L552.4 280.0L553.4 280.0L554.4 280.0L555.4 280.0L556.4 280.0L557.4 280.0L558.4 280.0L559.4 280.0L560.4 280.0L561.4 280.0L562.4 280.0L563.4 280.0L564.4 280.0L565.4 280.0L566.4 280.0L567.4 280.0L568.4 280.0L569.4 280.0L570.4 280.0L571.4 280.0L572.4 280.0L573.4 280.0L574.4 280.0L575.4 280.0L576.4 280.0L577.4 280.0L578.4 280.0L579.4 280.0L580.4 280.0L581.4 280.0L582.4 280.0L583.4 280.0L584.4 280.0L585.4 280.0L586.4 280.0L587.4 280.0L588.4 280.0L589.4 280.0L590.4 280.2L591.4 282.3L592.4 284.3L593.4 286.3L594.4 288.4L595.4 290.4L596.4 292.4L597.4 294.4L598.4 296.4L599.4 298.3L600.4 300.3L601.4 302.2L602.4 304.1L603.4 306.0L604.4 307.9L605.4 309.7L606.4 311.6L607.4 313.4L608.4 315.2L609.4 317.0L610.4 318.8L611.4 320.6L612.4 322.4L613.4 324.1L614.4 325.9L615.4 327.6L616.4 329.4L617.4 331.1L618.4 332.8L619.4 334.5L620.4 336.1L621.4 337.6L622.4 338.9L623.4 340.2L624.4 341.3L625.4 342.3L626.4 343.6L627.4 345.2L628.4 346.9L629.4 348.6L630.4 350.2L631.4 351.6L632.4 352.8L633.4 354.1L634.4 355.2L635.4 356.2L636.4 357.2L637.4 358.1L638.4 358.9L639.4 359.6L640.4 360.2L641.4 360.7L642.4 361.2L643.4 361.6L644.4 361.8L645.4 362.1L646.4 362.3L647.4 362.5L648.4 362.6L649.4 362.7L650.4 362.8L651.4 362.8L652.4 362.9L653.4 362.9L654.4 362.9L655.4 362.9L656.4 362.9L657.4 362.9L658.4 362.8L659.4 362.8L660.4 362.8L661.4 362.7L662.4 362.7L663.4 362.6L664.4 362.6L665.4 362.5L666.4 362.5L667.4 362.5L668.4 362.4L669.4 362.4L670.4 362.4L671.4 362.3L672.4 362.3L673.4 362.3L674.4 362.3L675.4 362.3L676.4 362.3L677.4 362.3L678.4 362.4L679.4 362.4L680.4 362.4L681.4 362.4L682.4 362.5L683.4 362.5L684.4 362.6L685.4 362.6L686.4 362.7L687.4 362.7L688.4 362.7L689.4 362.8L690.4 362.8L691.4 362.9L692.4 362.9L693.4 362.9L694.4 362.9L695.4 362.9L696.4 362.9L697.4 362.9L698.4 362.8L699.4 362.7L700.4 362.6L701.4 362.5L702.4 362.3L703.4 362.1L704.4 361.9L705.4 361.6L706.4 361.3L707.4 360.8L708.4 360.3L709.4 359.7L710.4 359.0L711.4 358.2L712.4 357.4L713.4 356.4L714.4 355.4L715.4 354.3L716.4 353.1L717.4 351.8L718.4 350.5L719.4 348.9L720.4 347.2L721.4 345.5L722.4 343.9L723.4 342.6L724.4 341.6L725.4 340.4L726.4 339.2L727.4 337.9L728.4 336.4L729.4 334.9L730.4 333.2L731.4 331.4L732.4 329.7L733.4 328.0L734.4 326.2L735.4 324.5L736.4 322.7L737.4 321.0L738.4 319.2L739.4 317.4L740.4 315.6L741.4 313.8L742.4 312.0L743.4 310.1L744.4 308.3L745.4 306.4L746.4 304.5L747.4 302.6L748.4 300.7L749.4 298.7L750.4 296.8L751.4 294.8L752.4 292.8L753.4 290.8L754.4 288.8L755.4 286.7L756.4 284.7L757.4 282.7L758.4 280.6L759.4 280.0L760.4 280.0L761.4 280.0L762.4 280.0L763.4 280.0L764.4 280.0L765.4 280.0L766.4 280.0L767.4 280.0L768.4 280.0L769.4 280.0L770.4 280.0L771.4 280.0L772.4 280.0L773.4 280.0L774.4 280.0L775.4 280.0L776.4 280.0L777.4 280.0L778.4 280.0L779.4 280.0L780.4 280.0L781.4 280.0L782.4 280.0L783.4 280.0L784.4 280.0L785.4 280.0L786.4 280.0L787.4 280.0L788.4 280.0L789.4 280.0L790.4 280.0L791.4 280.0L792.4 280.0L793.4 280.0L794.4 280.0L795.4 280.0L796.4 280.0L797.4 280.0L798.4 280.0L799.4 280.0L800.4 280.0L801.4 280.0L802.4 280.0L803.4 280.0L804.4 280.0" stroke="#808080" stroke-width="2.0"/>
<path d="M544.4 280.0L545.4 280.0L546.4 280.0L547.4 280.0L548.4 280.0L549.4 280.0L550.4 280.0L551.4 280.0L552.4 280.0L553.4 280.0L554.4 280.0L555.4 280.0L556.4 280.0L557.4 280.0L558.4 280.0L559.4 280.0L560.4 280.0L561.4 280.0L562.4 280.0L563.4 280.0L564.4 280.0L565.4 280.0L566.4 280.0L567.4 280.0L568.4 280.0L569.4 280.0L570.4 280.0L571.4 280.0L572.4 280.0L573.4 280.0L574.4 280.0L575.4 280.0L576.4 280.0L577.4 280.0L578.4 280.0L579.4 280.0L580.4 280.0L581.4 280.0L582.4 280.0L583.4 280.0L584.4 280.0L585.4 280.0L586.4 280.0L587.4 280.0L588.4 280.0L589.4 280.0L590.4 280.0L591.4 280.0L592.4 280.0L593.4 280.0L594.4 280.0L595.4 280.0L596.4 280.0L597.4 280.0L598.4 281.3L599.4 283.5L600.4 285.6L601.4 287.8L602.4 290.0L603.4 292.1L604.4 294.3L605.4 296.4L606.4 298.5L607.4 300.6L608.4 302.7L609.4 304.8L610.4 306.9L611.4 308.9L612.4 311.0L613.4 313.1L614.4 315.2L615.4 317.2L616.4 319.3L617.4 321.3L618.4 323.4L619.4 325.5L620.4 327.4L621.4 329.2L622.4 330.8L623.4 332.3L624.4 333.7L625.4 334.9L626.4 336.5L627.4 338.5L628.4 340.7L629.4 342.9L630.4 344.9L631.4 346.7L632.4 348.4L633.4 350.0L634.4 351.5L635.4 353.0L636.4 354.3L637.4 355.6L638.4 356.8L639.4 357.9L640.4 358.8L641.4 359.7L642.4 360.5L643.4 361.2L644.4 361.8L645.4 362.4L646.4 362.8L647.4 363.3L648.4 363.7L649.4 364.0L650.4 364.3L651.4 364.5L652.4 364.7L653.4 364.9L654.4 365.0L655.4 365.1L656.4 365.2L657.4 365.3L658.4 365.4L659.4 365.4L660.4 365.4L661.4 365.4L662.4 365.4L663.4 365.4L664.4 365.4L665.4 365.4L666.4 365.4L667.4 365.4L668.4 365.3L669.4 365.3L670.4 365.3L671.4 365.3L672.4 365.3L673.4 365.3L674.4 365.3L675.4 365.3L676.4 365.3L677.4 365.3L678.4 365.3L679.4 365.3L680.4 365.3L681.4 365.4L682.4 365.4L683.4 365.4L684.4 365.4L685.4 365.4L686.4 365.4L687.4 365.4L688.4 365.4L689.4 365.4L690.4 365.4L691.4 365.3L692.4 365.3L693.4 365.2L694.4 365.1L695.4 364.9L696.4 364.8L697.4 364.6L698.4 364.3L699.4 364.0L700.4 363.7L701.4 363.4L702.4 362.9L703.4 362.5L704.4 361.9L705.4 361.3L706.4 360.7L707.4 359.9L708.4 359.0L709.4 358.1L710.4 357.0L711.4 355.8L712.4 354.6L713.4 353.3L714.4 351.8L715.4 350.3L716.4 348.7L717.4 347.0L718.4 345.3L719.4 343.3L720.4 341.1L721.4 338.9L722.4 336.9L723.4 335.2L724.4 334.0L725.4 332.6L726.4 331.1L727.4 329.5L728.4 327.8L729.4 325.9L730.4 323.8L731.4 321.8L732.4 319.7L733.4 317.6L734.4 315.6L735.4 313.5L736.4 311.4L737.4 309.4L738.4 307.3L739.4 305.2L740.4 303.1L741.4 301.0L742.4 298.9L743.4 296.8L744.4 294.7L745.4 292.5L746.4 290.4L747.4 288.2L748.4 286.1L749.4 283.9L750.4 281.7L751.4 280.0L752.4 280.0L753.4 280.0L754.4 280.0L755.4 280.0L756.4 280.0L757.4 280.0L758.4 280.0L759.4 280.0L760.4 280.0L761.4 280.0L762.4 280.0L763.4 280.0L764.4 280.0L765.4 280.0L766.4 280.0L767.4 280.0L768.4 280.0L769.4 280.0L770.4 280.0L771.4 280.0L772.4 280.0L773.4 280.0L774.4 280.0L775.4 280.0L776.4 280.0L777.4 280.0L778.4 280.0L779.4 280.0L780.4 280.0L781.4 280.0L782.4 280.0L783.4 280.0L784.4 280.0L785.4 280.0L786.4 280.0L787.4 280.0L788.4 280.0L789.4 280.0L790.4 280.0L791.4 280.0L792.4 280.0L793.4 280.0L794.4 280.0L795.4 280.0L796.4 280.0L797.4 280.0L798.4 280.0L799.4 280.0L800.4 280.0L801.4 280.0L802.4 280.0L803.4 280.0L804.4 280.0" stroke="#808080" stroke-width="2.0"/>
<path d="M544.4 280.0L545.4 280.0L546.4 280.0L547.4 280.0L548.4 280.0L549.4 280.0L550.4 280.0L551.4 280.0L552.4 280.0L553.4 280.0L554.4 280.0L555.4 280.0L556.4 280.0L557.4 280.0L558.4 280.0L559.4 280.0L560.4 280.0L561.4 280.0L562.4 280.0L563.4 280.0L564.4 280.0L565.4 280.0L566.4 280.0L567.4 280.0L568.4 280.0L569.4 280.0L570.4 280.0L571.4 280.0L572.4 280.0L573.4 280.0L574.4 280.0L575.4 280.0L576.4 280.0L577.4 280.0L578.4 280.0L579.4 280.0L580.4 280.0L581.4 280.0L582.4 280.0L583.4 280.0L584.4 280.0L585.4 280.0L586.4 280.0L587.4 280.0L588.4 280.0L589.4 280.0L590.4 280.0L591.4 280.0L592.4 280.0L593.4 280.0L594.4 280.0L595.4 280.0L596.4 280.0L597.4 280.0L598.4 280.0L599.4 280.0L600.4 280.0L601.4 280.0L602.4 280.0L603.4 280.0L604.4 281.8L605.4 284.2L606.4 286.6L607.4 288.9L608.4 291.3L609.4 293.6L610.4 296.0L611.4 298.3L612.4 300.7L613.4 303.0L614.4 305.4L615.4 307.7L616.4 310.1L617.4 312.4L618.4 314.8L619.4 317.2L620.4 319.4L621.4 321.5L622.4 323.3L623.4 325.1L624.4 326.7L625.4 328.1L626.4 329.9L627.4 332.3L628.4 334.9L629.4 337.5L630.4 339.9L631.4 342.1L632.4 344.2L633.4 346.2L634.4 348.1L635.4 349.9L636.4 351.6L637.4 353.2L638.4 354.7L639.4 356.1L640.4 357.5L641.4 358.7L642.4 359.8L643.4 360.9L644.4 361.8L645.4 362.7L646.4 363.4L647.4 364.2L648.4 364.8L649.4 365.4L650.4 365.9L651.4 366.4L652.4 366.8L653.4 367.1L654.4 367.4L655.4 367.7L656.4 367.9L657.4 368.1L658.4 368.3L659.4 368.4L660.4 368.5L661.4 368.6L662.4 368.6L663.4 368.7L664.4 368.7L665.4 368.7L666.4 368.8L667.4 368.8L668.4 368.8L669.4 368.8L670.4 368.8L671.4 368.8L672.4 368.8L673.4 368.8L674.4 368.8L675.4 368.8L676.4 368.8L677.4 368.8L678.4 368.8L679.4 368.8L680.4 368.8L681.4 368.8L682.4 368.8L683.4 368.8L684.4 368.7L685.4 368.7L686.4 368.7L687.4 368.6L688.4 368.5L689.4 368.4L690.4 368.3L691.4 368.1L692.4 368.0L693.4 367.7L694.4 367.5L695.4 367.2L696.4 366.8L697.4 366.5L698.4 366.0L699.4 365.5L700.4 364.9L701.4 364.3L702.4 363.6L703.4 362.8L704.4 362.0L705.4 361.1L706.4 360.0L707.4 358.9L708.4 357.7L709.4 356.4L710.4 355.0L711.4 353.5L712.4 351.9L713.4 350.2L714.4 348.4L715.4 346.6L716.4 344.6L717.4 342.5L718.4 340.4L719.4 338.0L720.4 335.4L721.4 332.8L722.4 330.4L723.4 328.4L724.4 327.0L725.4 325.4L726.4 323.7L727.4 321.8L728.4 319.9L729.4 317.7L730.4 315.3L731.4 312.9L732.4 310.6L733.4 308.2L734.4 305.8L735.4 303.5L736.4 301.1L737.4 298.8L738.4 296.4L739.4 294.1L740.4 291.8L741.4 289.4L742.4 287.0L743.4 284.7L744.4 282.3L745.4 280.0L746.4 280.0L747.4 280.0L748.4 280.0L749.4 280.0L750.4 280.0L751.4 280.0L752.4 280.0L753.4 280.0L754.4 280.0L755.4 280.0L756.4 280.0L757.4 280.0L758.4 280.0L759.4 280.0L760.4 280.0L761.4 280.0L762.4 280.0L763.4 280.0L764.4 280.0L765.4 280.0L766.4 280.0L767.4 280.0L768.4 280.0L769.4 280.0L770.4 280.0L771.4 280.0L772.4 280.0L773.4 280.0L774.4 280.0L775.4 280.0L776.4 280.0L777.4 280.0L778.4 280.0L779.4 280.0L780.4 280.0L781.4 280.0L782.4 280.0L783.4 280.0L784.4 280.0L785.4 280.0L786.4 280.0L787.4 280.0L788.4 280.0L789.4 280.0L790.4 280.0L791.4 280.0L792.4 280.0L793.4 280.0L794.4 280.0L795.4 280.0L796.4 280.0L797.4 280.0L798.4 280.0L799.4 280.0L800.4 280.0L801.4 280.0L802.4 280.0L803.4 280.0L804.4 280.0" stroke="#808080" stroke-width="2.0"/>
<path d="M544.4 280.0L545.4 280.0L546.4 280.0L547.4 280.0L548.4 280.0L549.4 280.0L550.4 280.0L551.4 280.0L552.4 280.0L553.4 280.0L554.4 280.0L555.4 280.0L556.4 280.0L557.4 280.0L558.4 280.0L559.4 280.0L560.4 280.0L561.4 280.0L562.4 280.0L563.4 280.0L564.4 280.0L565.4 280.0L566.4 280.0L567.4 280.0L568.4 280.0L569.4 280.0L570.4 280.0L571.4 280.0L572.4 280.0L573.4 280.0L574.4 280.0L575.4 280.0L576.4 280.0L577.4 280.0L578.4 280.0L579.4 280.0L580.4 280.0L581.4 280.0L582.4 280.0L583.4 280.0L584.4 280.0L585.4 280.0L586.4 280.0L587.4 280.0L588.4 280.0L589.4 280.0L590.4 280.0L591.4 280.0L592.4 280.0L593.4 280.0L594.4 280.0L595.4 280.0L596.4 280.0L597.4 280.0L598.4 280.0L599.4 280.0L600.4 280.0L601.4 280.0L602.4 280.0L603.4 280.0L604.4 280.0L605.4 280.0L606.4 280.0L607.4 280.0L608.4 281.4L609.4 284.0L610.4 286.6L611.4 289.1L612.4 291.7L613.4 294.3L614.4 296.9L615.4 299.5L616.4 302.2L617.4 304.8L618.4 307.4L619.4 310.1L620.4 312.5L621.4 314.8L622.4 316.9L623.4 318.8L624.4 320.6L625.4 322.2L626.4 324.3L627.4 326.9L628.4 329.8L629.4 332.8L630.4 335.6L631.4 338.1L632.4 340.5L633.4 342.8L634.4 345.0L635.4 347.1L636.4 349.1L637.4 351.0L638.4 352.8L639.4 354.6L640.4 356.2L641.4 357.7L642.4 359.2L643.4 360.5L644.4 361.8L645.4 362.9L646.4 364.0L647.4 365.0L648.4 366.0L649.4 366.8L650.4 367.6L651.4 368.3L652.4 368.9L653.4 369.5L654.4 370.0L655.4 370.4L656.4 370.8L657.4 371.2L658.4 371.4L659.4 371.7L660.4 371.9L661.4 372.1L662.4 372.2L663.4 372.3L664.4 372.4L665.4 372.5L666.4 372.6L667.4 372.6L668.4 372.6L669.4 372.7L670.4 372.7L671.4 372.7L672.4 372.7L673.4 372.7L674.4 372.7L675.4 372.7L676.4 372.7L677.4 372.7L678.4 372.7L679.4 372.7L680.4 372.6L681.4 372.6L682.4 372.6L683.4 372.5L684.4 372.4L685.4 372.4L686.4 372.2L687.4 372.1L688.4 371.9L689.4 371.7L690.4 371.5L691.4 371.2L692.4 370.9L693.4 370.5L694.4 370.1L695.4 369.6L696.4 369.0L697.4 368.4L698.4 367.7L699.4 367.0L700.4 366.1L701.4 365.2L702.4 364.2L703.4 363.2L704.4 362.0L705.4 360.8L706.4 359.5L707.4 358.0L708.4 356.5L709.4 354.9L710.4 353.2L711.4 351.4L712.4 349.5L713.4 347.5L714.4 345.4L715.4 343.2L716.4 340.9L717.4 338.6L718.4 336.1L719.4 333.4L720.4 330.4L721.4 327.5L722.4 324.7L723.4 322.5L724.4 321.0L725.4 319.2L726.4 317.3L727.4 315.2L728.4 313.0L729.4 310.6L730.4 308.0L731.4 305.3L732.4 302.7L733.4 300.1L734.4 297.4L735.4 294.8L736.4 292.2L737.4 289.7L738.4 287.1L739.4 284.5L740.4 281.9L741.4 280.0L742.4 280.0L743.4 280.0L744.4 280.0L745.4 280.0L746.4 280.0L747.4 280.0L748.4 280.0L749.4 280.0L750.4 280.0L751.4 280.0L752.4 280.0L753.4 280.0L754.4 280.0L755.4 280.0L756.4 280.0L757.4 280.0L758.4 280.0L759.4 280.0L760.4 280.0L761.4 280.0L762.4 280.0L763.4 280.0L764.4 280.0L765.4 280.0L766.4 280.0L767.4 280.0L768.4 280.0L769.4 280.0L770.4 280.0L771.4 280.0L772.4 280.0L773.4 280.0L774.4 280.0L775.4 280.0L776.4 280.0L777.4 280.0L778.4 280.0L779.4 280.0L780.4 280.0L781.4 280.0L782.4 280.0L783.4 280.0L784.4 280.0L785.4 280.0L786.4 280.0L787.4 280.0L788.4 280.0L789.4 280.0L790.4 280.0L791.4 280.0L792.4 280.0L793.4 280.0L794.4 280.0L795.4 280.0L796.4 280.0L797.4 280.0L798.4 280.0L799.4 280.0L800.4 280.0L801.4 280.0L802.4 280.0L803.4 280.0L804.4 280.0" stroke="#808080" stroke-width="2.0"/>
<path d="M544.4 280.0L545.4 280.0L546.4 280.0L547.4 280.0L548.4 280.0L549.4 280.0L550.4 280.0L551.4 280.0L552.4 280.0L553.4 280.0L554.4 280.0L555.4 280.0L556.4 280.0L557.4 280.0L558.4 280.0L559.4 280.0L560.4 280.0L561.4 280.0L562.4 280.0L563.4 280.0L564.4 280.0L565.4 280.0L566.4 280.0L567.4 280.0L568.4 280.0L569.4 280.0L570.4 280.0L571.4 280.0L572.4 280.0L573.4 280.0L574.4 280.0L575.4 280.0L576.4 280.0L577.4 280.0L578.4 280.0L579.4 280.0L580.4 280.0L581.4 280.0L582.4 280.0L583.4 280.0L584.4 280.0L585.4 280.0L586.4 280.0L587.4 280.0L588.4 280.0L589.4 280.0L590.4 280.0L591.4 280.0L592.4 280.0L593.4 280.0L594.4 280.0L595.4 280.0L596.4 280.0L597.4 280.0L598.4 280.0L599.4 280.0L600.4 280.0L601.4 280.0L602.4 280.0L603.4 280.0L604.4 280.0L605.4 280.0L606.4 280.0L607.4 280.0L608.4 280.0L609.4 280.0L610.4 280.0L611.4 281.7L612.4 284.5L613.4 287.3L614.4 290.1L615.4 292.9L616.4 295.7L617.4 298.5L618.4 301.4L619.4 304.3L620.4 306.9L621.4 309.4L622.4 311.6L623.4 313.8L624.4 315.7L625.4 317.4L626.4 319.6L627.4 322.5L628.4 325.7L629.4 329.0L630.4 332.1L631.4 334.8L632.4 337.4L633.4 340.0L634.4 342.4L635.4 344.7L636.4 347.0L637.4 349.2L638.4 351.2L639.4 353.2L640.4 355.1L641.4 356.9L642.4 358.6L643.4 360.2L644.4 361.8L645.4 363.2L646.4 364.5L647.4 365.8L648.4 367.0L649.4 368.1L650.4 369.1L651.4 370.1L652.4 371.0L653.4 371.8L654.4 372.5L655.4 373.1L656.4 373.7L657.4 374.2L658.4 374.7L659.4 375.1L660.4 375.4L661.4 375.7L662.4 376.0L663.4 376.2L664.4 376.4L665.4 376.5L666.4 376.6L667.4 376.7L668.4 376.8L669.4 376.9L670.4 376.9L671.4 376.9L672.4 377.0L673.4 377.0L674.4 377.0L675.4 377.0L676.4 377.0L677.4 376.9L678.4 376.9L679.4 376.9L680.4 376.8L681.4 376.8L682.4 376.7L683.4 376.6L684.4 376.4L685.4 376.2L686.4 376.0L687.4 375.8L688.4 375.5L689.4 375.2L690.4 374.8L691.4 374.3L692.4 373.8L693.4 373.3L694.4 372.6L695.4 371.9L696.4 371.1L697.4 370.3L698.4 369.3L699.4 368.3L700.4 367.2L701.4 366.1L702.4 364.8L703.4 363.5L704.4 362.0L705.4 360.5L706.4 358.9L707.4 357.3L708.4 355.5L709.4 353.6L710.4 351.6L711.4 349.6L712.4 347.4L713.4 345.2L714.4 342.9L715.4 340.5L716.4 337.9L717.4 335.3L718.4 332.6L719.4 329.6L720.4 326.4L721.4 323.1L722.4 320.2L723.4 317.7L724.4 316.1L725.4 314.2L726.4 312.1L727.4 309.8L728.4 307.4L729.4 304.8L730.4 302.0L731.4 299.1L732.4 296.3L733.4 293.5L734.4 290.6L735.4 287.8L736.4 285.1L737.4 282.3L738.4 280.0L739.4 280.0L740.4 280.0L741.4 280.0L742.4 280.0L743.4 280.0L744.4 280.0L745.4 280.0L746.4 280.0L747.4 280.0L748.4 280.0L749.4 280.0L750.4 280.0L751.4 280.0L752.4 280.0L753.4 280.0L754.4 280.0L755.4 280.0L756.4 280.0L757.4 280.0L758.4 280.0L759.4 280.0L760.4 280.0L761.4 280.0L762.4 280.0L763.4 280.0L764.4 280.0L765.4 280.0L766.4 280.0L767.4 280.0L768.4 280.0L769.4 280.0L770.4 280.0L771.4 280.0L772.4 280.0L773.4 280.0L774.4 280.0L775.4 280.0L776.4 280.0L777.4 280.0L778.4 280.0L779.4 280.0L780.4 280.0L781.4 280.0L782.4 280.0L783.4 280.0L784.4 280.0L785.4 280.0L786.4 280.0L787.4 280.0L788.4 280.0L789.4 280.0L790.4 280.0L791.4 280.0L792.4 280.0L793.4 280.0L794.4 280.0L795.4 280.0L796.4 280.0L797.4 280.0L798.4 280.0L799.4 280.0L800.4 280.0L801.4 280.0L802.4 280.0L803.4 280.0L804.4 280.0" stroke="#808080" stroke-width="2.0"/>
<path d="M544.4 280.0L545.4 280.0L546.4 280.0L547.4 280.0L548.4 280.0L549.4 280.0L550.4 280.0L551.4 280.0L552.4 280.0L553.4 280.0L554.4 280.0L555.4 280.0L556.4 280.0L557.4 280.0L558.4 280.0L559.4 280.0L560.4 280.0L561.4 280.0L562.4 280.0L563.4 280.0L564.4 280.0L565.4 280.0L566.4 280.0L567.4 280.0L568.4 280.0L569.4 280.0L570.4 280.0L571.4 280.0L572.4 280.0L573.4 280.0L574.4 280.0L575.4 280.0L576.4 280.0L577.4 280.0L578.4 280.0L579.4 280.0L580.4 280.0L581.4 280.0L582.4 280.0L583.4 280.0L584.4 280.0L585.4 280.0L586.4 280.0L587.4 280.0L588.4 280.0L589.4 280.0L590.4 280.0L591.4 280.0L592.4 280.0L593.4 280.0L594.4 280.0L595.4 280.0L596.4 280.0L597.4 280.0L598.4 280.0L599.4 280.0L600.4 280.0L601.4 280.0L602.4 280.0L603.4 280.0L604.4 280.0L605.4 280.0L606.4 280.0L607.4 280.0L608.4 280.0L609.4 280.0L610.4 280.0L611.4 280.0L612.4 280.0L613.4 282.1L614.4 285.1L615.4 288.0L616.4 291.0L617.4 294.0L618.4 297.0L619.4 300.0L620.4 302.8L621.4 305.4L622.4 307.8L623.4 310.0L624.4 312.1L625.4 313.8L626.4 316.2L627.4 319.3L628.4 322.7L629.4 326.2L630.4 329.4L631.4 332.3L632.4 335.2L633.4 337.9L634.4 340.5L635.4 343.0L636.4 345.5L637.4 347.8L638.4 350.1L639.4 352.2L640.4 354.3L641.4 356.3L642.4 358.2L643.4 360.0L644.4 361.7L645.4 363.4L646.4 365.0L647.4 366.4L648.4 367.9L649.4 369.2L650.4 370.4L651.4 371.6L652.4 372.7L653.4 373.7L654.4 374.7L655.4 375.6L656.4 376.4L657.4 377.1L658.4 377.8L659.4 378.3L660.4 378.9L661.4 379.3L662.4 379.7L663.4 380.1L664.4 380.4L665.4 380.6L666.4 380.8L667.4 381.0L668.4 381.1L669.4 381.2L670.4 381.3L671.4 381.4L672.4 381.4L673.4 381.4L674.4 381.4L675.4 381.4L676.4 381.4L677.4 381.4L678.4 381.3L679.4 381.2L680.4 381.1L681.4 381.0L682.4 380.8L683.4 380.6L684.4 380.4L685.4 380.1L686.4 379.8L687.4 379.4L688.4 379.0L689.4 378.4L690.4 377.9L691.4 377.2L692.4 376.5L693.4 375.7L694.4 374.9L695.4 373.9L696.4 372.9L697.4 371.9L698.4 370.7L699.4 369.5L700.4 368.1L701.4 366.7L702.4 365.3L703.4 363.7L704.4 362.1L705.4 360.4L706.4 358.6L707.4 356.7L708.4 354.7L709.4 352.6L710.4 350.5L711.4 348.3L712.4 345.9L713.4 343.5L714.4 341.0L715.4 338.4L716.4 335.7L717.4 332.9L718.4 330.0L719.4 326.9L720.4 323.4L721.4 319.9L722.4 316.8L723.4 314.2L724.4 312.5L725.4 310.5L726.4 308.2L727.4 305.9L728.4 303.4L729.4 300.6L730.4 297.6L731.4 294.6L732.4 291.6L733.4 288.6L734.4 285.7L735.4 282.7L736.4 280.0L737.4 280.0L738.4 280.0L739.4 280.0L740.4 280.0L741.4 280.0L742.4 280.0L743.4 280.0L744.4 280.0L745.4 280.0L746.4 280.0L747.4 280.0L748.4 280.0L749.4 280.0L750.4 280.0L751.4 280.0L752.4 280.0L753.4 280.0L754.4 280.0L755.4 280.0L756.4 280.0L757.4 280.0L758.4 280.0L759.4 280.0L760.4 280.0L761.4 280.0L762.4 280.0L763.4 280.0L764.4 280.0L765.4 280.0L766.4 280.0L767.4 280.0L768.4 280.0L769.4 280.0L770.4 280.0L771.4 280.0L772.4 280.0L773.4 280.0L774.4 280.0L775.4 280.0L776.4 280.0L777.4 280.0L778.4 280.0L779.4 280.0L780.4 280.0L781.4 280.0L782.4 280.0L783.4 280.0L784.4 280.0L785.4 280.0L786.4 280.0L787.4 280.0L788.4 280.0L789.4 280.0L790.4 280.0L791.4 280.0L792.4 280.0L793.4 280.0L794.4 280.0L795.4 280.0L796.4 280.0L797.4 280.0L798.4 280.0L799.4 280.0L800.4 280.0L801.4 280.0L802.4 280.0L803.4 280.0L804.4 280.0" stroke="#808080" stroke-width="2.0"/>
<path d="M544.4 280.0L545.4 280.0L546.4 280.0L547.4 280.0L548.4 280.0L549.4 280.0L550.4 280.0L551.4 280.0L552.4 280.0L553.4 280.0L554.4 280.0L555.4 280.0L556.4 280.0L557.4 280.0L558.4 280.0L559.4 280.0L560.4 280.0L561.4 280.0L562.4 280.0L563.4 280.0L564.4 280.0L565.4 280.0L566.4 280.0L567.4 280.0L568.4 280.0L569.4 280.0L570.4 280.0L571.4 280.0L572.4 280.0L573.4 280.0L574.4 280.0L575.4 280.0L576.4 280.0L577.4 280.0L578.4 280.0L579.4 280.0L580.4 280.0L581.4 280.0L582.4 280.0L583.4 280.0L584.4 280.0L585.4 280.0L586.4 280.0L587.4 280.0L588.4 280.0L589.4 280.0L590.4 280.0L591.4 280.0L592.4 280.0L593.4 280.0L594.4 280.0L595.4 280.0L596.4 280.0L597.4 280.0L598.4 280.0L599.4 280.0L600.4 280.0L601.4 280.0L602.4 280.0L603.4 280.0L604.4 280.0L605.4 280.0L606.4 280.0L607.4 280.0L608.4 280.0L609.4 280.0L610.4 280.0L611.4 280.0L612.4 280.0L613.4 280.0L614.4 282.0L615.4 285.1L616.4 288.1L617.4 291.2L618.4 294.3L619.4 297.4L620.4 300.3L621.4 303.0L622.4 305.4L623.4 307.7L624.4 309.9L625.4 311.7L626.4 314.1L627.4 317.3L628.4 320.8L629.4 324.4L630.4 327.8L631.4 330.9L632.4 333.8L633.4 336.6L634.4 339.3L635.4 342.0L636.4 344.5L637.4 347.0L638.4 349.3L639.4 351.6L640.4 353.8L641.4 355.9L642.4 357.9L643.4 359.9L644.4 361.7L645.4 363.5L646.4 365.2L647.4 366.9L648.4 368.4L649.4 369.9L650.4 371.3L651.4 372.7L652.4 373.9L653.4 375.1L654.4 376.3L655.4 377.3L656.4 378.3L657.4 379.2L658.4 380.1L659.4 380.9L660.4 381.6L661.4 382.2L662.4 382.8L663.4 383.4L664.4 383.8L665.4 384.2L666.4 384.6L667.4 384.9L668.4 385.1L669.4 385.3L670.4 385.5L671.4 385.6L672.4 385.7L673.4 385.7L674.4 385.8L675.4 385.7L676.4 385.7L677.4 385.6L678.4 385.5L679.4 385.4L680.4 385.2L681.4 384.9L682.4 384.6L683.4 384.3L684.4 383.9L685.4 383.5L686.4 382.9L687.4 382.4L688.4 381.7L689.4 381.0L690.4 380.2L691.4 379.4L692.4 378.5L693.4 377.5L694.4 376.5L695.4 375.4L696.4 374.2L697.4 372.9L698.4 371.6L699.4 370.2L700.4 368.7L701.4 367.2L702.4 365.6L703.4 363.9L704.4 362.1L705.4 360.2L706.4 358.3L707.4 356.3L708.4 354.2L709.4 352.0L710.4 349.8L711.4 347.4L712.4 345.0L713.4 342.5L714.4 339.9L715.4 337.1L716.4 334.3L717.4 331.4L718.4 328.4L719.4 325.2L720.4 321.6L721.4 318.0L722.4 314.7L723.4 312.1L724.4 310.2L725.4 308.2L726.4 305.9L727.4 303.5L728.4 300.9L729.4 298.0L730.4 294.9L731.4 291.8L732.4 288.7L733.4 285.7L734.4 282.6L735.4 280.0L736.4 280.0L737.4 280.0L738.4 280.0L739.4 280.0L740.4 280.0L741.4 280.0L742.4 280.0L743.4 280.0L744.4 280.0L745.4 280.0L746.4 280.0L747.4 280.0L748.4 280.0L749.4 280.0L750.4 280.0L751.4 280.0L752.4 280.0L753.4 280.0L754.4 280.0L755.4 280.0L756.4 280.0L757.4 280.0L758.4 280.0L759.4 280.0L760.4 280.0L761.4 280.0L762.4 280.0L763.4 280.0L764.4 280.0L765.4 280.0L766.4 280.0L767.4 280.0L768.4 280.0L769.4 280.0L770.4 280.0L771.4 280.0L772.4 280.0L773.4 280.0L774.4 280.0L775.4 280.0L776.4 280.0L777.4 280.0L778.4 280.0L779.4 280.0L780.4 280.0L781.4 280.0L782.4 280.0L783.4 280.0L784.4 280.0L785.4 280.0L786.4 280.0L787.4 280.0L788.4 280.0L789.4 280.0L790.4 280.0L791.4 280.0L792.4 280.0L793.4 280.0L794.4 280.0L795.4 280.0L796.4 280.0L797.4 280.0L798.4 280.0L799.4 280.0L800.4 280.0L801.4 280.0L802.4 280.0L803.4 280.0L804.4 280.0" stroke="#808080" stroke-width="2.0"/>
<path d="M544.4 504.0L545.4 504.0L546.4 504.0L547.4 504.0L548.4 504.0L549.4 504.0L550.4 504.0L551.4 504.0L552.4 504.0L553.4 504.0L554.4 504.0L555.4 504.0L556.4 504.0L557.4 504.0L558.4 504.0L559.4 504.0L560.4 504.0L561.4 504.0L562.4 504.0L563.4 504.0L564.4 504.0L565.4 504.0L566.4 504.0L567.4 504.0L568.4 504.0L569.4 504.0L570.4 502.1L571.4 499.5L572.4 497.0L573.4 494.6L574.4 492.2L575.4 489.8L576.4 487.5L577.4 485.2L578.4 482.9L579.4 480.7L580.4 478.5L581.4 476.4L582.4 474.3L583.4 472.2L584.4 470.2L585.4 468.2L586.4 466.3L587.4 464.4L588.4 462.5L589.4 460.7L590.4 458.9L591.4 457.2L592.4 455.5L593.4 453.8L594.4 452.2L595.4 450.6L596.4 449.1L597.4 447.6L598.4 446.1L599.4 444.7L600.4 443.3L601.4 442.0L602.4 440.7L603.4 439.4L604.4 438.2L605.4 437.0L606.4 435.9L607.4 434.8L608.4 433.7L609.4 432.7L610.4 431.7L611.4 430.8L612.4 429.9L613.4 429.0L614.4 428.2L615.4 427.4L616.4 426.7L617.4 426.0L618.4 425.3L619.4 424.7L620.4 424.1L621.4 423.6L622.4 423.1L623.4 422.6L624.4 422.2L625.4 421.8L626.4 421.5L627.4 421.2L628.4 420.9L629.4 420.7L630.4 420.5L631.4 420.4L632.4 420.2L633.4 420.2L634.4 420.2L635.4 420.2L636.4 420.2L637.4 420.3L638.4 420.5L639.4 420.6L640.4 420.9L641.4 421.1L642.4 421.4L643.4 421.7L644.4 422.1L645.4 422.5L646.4 422.8L647.4 423.1L648.4 423.4L649.4 423.7L650.4 424.0L651.4 424.2L652.4 424.5L653.4 424.7L654.4 424.9L655.4 425.1L656.4 425.3L657.4 425.5L658.4 425.6L659.4 425.8L660.4 425.9L661.4 426.1L662.4 426.2L663.4 426.3L664.4 426.4L665.4 426.5L666.4 426.5L667.4 426.6L668.4 426.7L669.4 426.7L670.4 426.8L671.4 426.8L672.4 426.8L673.4 426.8L674.4 426.8L675.4 426.8L676.4 426.8L677.4 426.8L678.4 426.8L679.4 426.7L680.4 426.7L681.4 426.6L682.4 426.6L683.4 426.5L684.4 426.4L685.4 426.3L686.4 426.2L687.4 426.1L688.4 426.0L689.4 425.8L690.4 425.7L691.4 425.5L692.4 425.3L693.4 425.1L694.4 424.9L695.4 424.7L696.4 424.5L697.4 424.3L698.4 424.0L699.4 423.8L700.4 423.5L701.4 423.2L702.4 422.9L703.4 422.5L704.4 422.2L705.4 421.8L706.4 421.5L707.4 421.2L708.4 420.9L709.4 420.7L710.4 420.5L711.4 420.4L712.4 420.2L713.4 420.2L714.4 420.2L715.4 420.2L716.4 420.2L717.4 420.3L718.4 420.5L719.4 420.6L720.4 420.9L721.4 421.1L722.4 421.4L723.4 421.7L724.4 422.1L725.4 422.5L726.4 423.0L727.4 423.5L728.4 424.0L729.4 424.6L730.4 425.2L731.4 425.9L732.4 426.5L733.4 427.3L734.4 428.1L735.4 428.9L736.4 429.7L737.4 430.6L738.4 431.5L739.4 432.5L740.4 433.5L741.4 434.6L742.4 435.7L743.4 436.8L744.4 438.0L745.4 439.2L746.4 440.4L747.4 441.7L748.4 443.1L749.4 444.4L750.4 445.9L751.4 447.3L752.4 448.8L753.4 450.3L754.4 451.9L755.4 453.5L756.4 455.2L757.4 456.9L758.4 458.6L759.4 460.4L760.4 462.2L761.4 464.0L762.4 465.9L763.4 467.8L764.4 469.8L765.4 471.8L766.4 473.9L767.4 475.9L768.4 478.1L769.4 480.2L770.4 482.5L771.4 484.7L772.4 487.0L773.4 489.3L774.4 491.7L775.4 494.1L776.4 496.5L777.4 499.0L778.4 501.6L779.4 504.0L780.4 504.0L781.4 504.0L782.4 504.0L783.4 504.0L784.4 504.0L785.4 504.0L786.4 504.0L787.4 504.0L788.4 504.0L789.4 504.0L790.4 504.0L791.4 504.0L792.4 504.0L793.4 504.0L794.4 504.0L795.4 504.0L796.4 504.0L797.4 504.0L798.4 504.0L799.4 504.0L800.4 504.0L801.4 504.0L802.4 504.0L803.4 504.0L804.4 504.0" stroke="#808080" stroke-width="2.0"/>
<path d="M544.4 504.0L545.4 504.0L546.4 504.0L547.4 504.0L548.4 504.0L549.4 504.0L550.4 504.0L551.4 504.0L552.4 504.0L553.4 504.0L554.4 504.0L555.4 504.0L556.4 504.0L557.4 504.0L558.4 504.0L559.4 504.0L560.4 504.0L561.4 504.0L562.4 504.0L563.4 504.0L564.4 504.0L565.4 504.0L566.4 504.0L567.4 504.0L568.4 504.0L569.4 504.0L570.4 504.0L571.4 504.0L572.4 504.0L573.4 504.0L574.4 503.9L575.4 501.6L576.4 499.3L577.4 497.0L578.4 494.8L579.4 492.6L580.4 490.5L581.4 488.4L582.4 486.3L583.4 484.2L584.4 482.2L585.4 480.2L586.4 478.3L587.4 476.4L588.4 474.5L589.4 472.7L590.4 470.9L591.4 469.1L592.4 467.3L593.4 465.6L594.4 463.9L595.4 462.3L596.4 460.6L597.4 459.0L598.4 457.4L599.4 455.9L600.4 454.4L601.4 452.9L602.4 451.5L603.4 450.0L604.4 448.7L605.4 447.3L606.4 446.0L607.4 444.7L608.4 443.4L609.4 442.2L610.4 441.0L611.4 439.8L612.4 438.7L613.4 437.5L614.4 436.5L615.4 435.4L616.4 434.4L617.4 433.4L618.4 432.4L619.4 431.4L620.4 430.6L621.4 429.7L622.4 429.0L623.4 428.3L624.4 427.7L625.4 427.1L626.4 426.5L627.4 425.8L628.4 425.1L629.4 424.4L630.4 423.9L631.4 423.4L632.4 422.9L633.4 422.6L634.4 422.3L635.4 422.0L636.4 421.8L637.4 421.6L638.4 421.5L639.4 421.5L640.4 421.5L641.4 421.6L642.4 421.7L643.4 421.9L644.4 422.1L645.4 422.4L646.4 422.6L647.4 422.8L648.4 423.0L649.4 423.2L650.4 423.4L651.4 423.6L652.4 423.8L653.4 423.9L654.4 424.1L655.4 424.3L656.4 424.4L657.4 424.6L658.4 424.7L659.4 424.8L660.4 425.0L661.4 425.1L662.4 425.2L663.4 425.3L664.4 425.4L665.4 425.4L666.4 425.5L667.4 425.6L668.4 425.6L669.4 425.7L670.4 425.7L671.4 425.8L672.4 425.8L673.4 425.8L674.4 425.8L675.4 425.8L676.4 425.8L677.4 425.8L678.4 425.7L679.4 425.7L680.4 425.6L681.4 425.6L682.4 425.5L683.4 425.5L684.4 425.4L685.4 425.3L686.4 425.2L687.4 425.1L688.4 425.0L689.4 424.9L690.4 424.7L691.4 424.6L692.4 424.5L693.4 424.3L694.4 424.1L695.4 424.0L696.4 423.8L697.4 423.6L698.4 423.4L699.4 423.2L700.4 423.0L701.4 422.8L702.4 422.6L703.4 422.4L704.4 422.2L705.4 421.9L706.4 421.7L707.4 421.6L708.4 421.5L709.4 421.5L710.4 421.5L711.4 421.6L712.4 421.7L713.4 421.9L714.4 422.2L715.4 422.5L716.4 422.9L717.4 423.3L718.4 423.8L719.4 424.3L720.4 425.0L721.4 425.7L722.4 426.3L723.4 427.0L724.4 427.5L725.4 428.2L726.4 428.8L727.4 429.6L728.4 430.4L729.4 431.3L730.4 432.2L731.4 433.2L732.4 434.2L733.4 435.2L734.4 436.2L735.4 437.3L736.4 438.4L737.4 439.6L738.4 440.7L739.4 441.9L740.4 443.2L741.4 444.4L742.4 445.7L743.4 447.0L744.4 448.4L745.4 449.8L746.4 451.2L747.4 452.6L748.4 454.1L749.4 455.6L750.4 457.1L751.4 458.7L752.4 460.3L753.4 461.9L754.4 463.6L755.4 465.3L756.4 467.0L757.4 468.7L758.4 470.5L759.4 472.3L760.4 474.2L761.4 476.0L762.4 477.9L763.4 479.9L764.4 481.8L765.4 483.8L766.4 485.9L767.4 487.9L768.4 490.0L769.4 492.2L770.4 494.4L771.4 496.6L772.4 498.9L773.4 501.1L774.4 503.5L775.4 504.0L776.4 504.0L777.4 504.0L778.4 504.0L779.4 504.0L780.4 504.0L781.4 504.0L782.4 504.0L783.4 504.0L784.4 504.0L785.4 504.0L786.4 504.0L787.4 504.0L788.4 504.0L789.4 504.0L790.4 504.0L791.4 504.0L792.4 504.0L793.4 504.0L794.4 504.0L795.4 504.0L796.4 504.0L797.4 504.0L798.4 504.0L799.4 504.0L800.4 504.0L801.4 504.0L802.4 504.0L803.4 504.0L804.4 504.0" stroke="#808080" stroke-width="2.0"/>
<path d="M544.4 504.0L545.4 504.0L546.4 504.0L547.4 504.0L548.4 504.0L549.4 504.0L550.4 504.0L551.4 504.0L552.4 504.0L553.4 504.0L554.4 504.0L555.4 504.0L556.4 504.0L557.4 504.0L558.4 504.0L559.4 504.0L560.4 504.0L561.4 504.0L562.4 504.0L563.4 504.0L564.4 504.0L565.4 504.0L566.4 504.0L567.4 504.0L568.4 504.0L569.4 504.0L570.4 504.0L571.4 504.0L572.4 504.0L573.4 504.0L574.4 504.0L575.4 504.0L576.4 504.0L577.4 504.0L578.4 504.0L579.4 504.0L580.4 504.0L581.4 504.0L582.4 502.6L583.4 500.5L584.4 498.4L585.4 496.4L586.4 494.4L587.4 492.5L588.4 490.5L589.4 488.6L590.4 486.7L591.4 484.8L592.4 482.9L593.4 481.1L594.4 479.2L595.4 477.4L596.4 475.6L597.4 473.8L598.4 472.1L599.4 470.3L600.4 468.6L601.4 466.9L602.4 465.3L603.4 463.6L604.4 462.0L605.4 460.4L606.4 458.8L607.4 457.3L608.4 455.8L609.4 454.2L610.4 452.8L611.4 451.3L612.4 449.8L613.4 448.4L614.4 447.0L615.4 445.6L616.4 444.2L617.4 442.8L618.4 441.5L619.4 440.2L620.4 438.9L621.4 437.8L622.4 436.7L623.4 435.8L624.4 434.9L625.4 434.1L626.4 433.1L627.4 432.0L628.4 430.8L629.4 429.6L630.4 428.6L631.4 427.6L632.4 426.8L633.4 426.0L634.4 425.3L635.4 424.6L636.4 424.1L637.4 423.6L638.4 423.2L639.4 422.8L640.4 422.5L641.4 422.3L642.4 422.2L643.4 422.1L644.4 422.1L645.4 422.2L646.4 422.2L647.4 422.2L648.4 422.3L649.4 422.4L650.4 422.5L651.4 422.5L652.4 422.6L653.4 422.7L654.4 422.8L655.4 422.9L656.4 423.0L657.4 423.1L658.4 423.2L659.4 423.3L660.4 423.4L661.4 423.5L662.4 423.6L663.4 423.6L664.4 423.7L665.4 423.8L666.4 423.8L667.4 423.9L668.4 423.9L669.4 424.0L670.4 424.0L671.4 424.0L672.4 424.0L673.4 424.1L674.4 424.1L675.4 424.1L676.4 424.0L677.4 424.0L678.4 424.0L679.4 424.0L680.4 423.9L681.4 423.9L682.4 423.8L683.4 423.8L684.4 423.7L685.4 423.6L686.4 423.6L687.4 423.5L688.4 423.4L689.4 423.3L690.4 423.2L691.4 423.1L692.4 423.0L693.4 422.9L694.4 422.8L695.4 422.7L696.4 422.7L697.4 422.6L698.4 422.5L699.4 422.4L700.4 422.3L701.4 422.3L702.4 422.2L703.4 422.2L704.4 422.1L705.4 422.1L706.4 422.2L707.4 422.3L708.4 422.5L709.4 422.7L710.4 423.1L711.4 423.5L712.4 424.0L713.4 424.5L714.4 425.1L715.4 425.8L716.4 426.6L717.4 427.5L718.4 428.4L719.4 429.4L720.4 430.6L721.4 431.8L722.4 432.9L723.4 433.9L724.4 434.7L725.4 435.6L726.4 436.5L727.4 437.6L728.4 438.7L729.4 439.9L730.4 441.2L731.4 442.6L732.4 443.9L733.4 445.3L734.4 446.7L735.4 448.1L736.4 449.6L737.4 451.0L738.4 452.5L739.4 454.0L740.4 455.5L741.4 457.0L742.4 458.5L743.4 460.1L744.4 461.7L745.4 463.3L746.4 464.9L747.4 466.6L748.4 468.3L749.4 470.0L750.4 471.7L751.4 473.5L752.4 475.2L753.4 477.0L754.4 478.9L755.4 480.7L756.4 482.6L757.4 484.4L758.4 486.3L759.4 488.2L760.4 490.1L761.4 492.1L762.4 494.0L763.4 496.0L764.4 498.0L765.4 500.1L766.4 502.2L767.4 504.0L768.4 504.0L769.4 504.0L770.4 504.0L771.4 504.0L772.4 504.0L773.4 504.0L774.4 504.0L775.4 504.0L776.4 504.0L777.4 504.0L778.4 504.0L779.4 504.0L780.4 504.0L781.4 504.0L782.4 504.0L783.4 504.0L784.4 504.0L785.4 504.0L786.4 504.0L787.4 504.0L788.4 504.0L789.4 504.0L790.4 504.0L791.4 504.0L792.4 504.0L793.4 504.0L794.4 504.0L795.4 504.0L796.4 504.0L797.4 504.0L798.4 504.0L799.4 504.0L800.4 504.0L801.4 504.0L802.4 504.0L803.4 504.0L804.4 504.0" stroke="#808080" stroke-width="2.0"/>
<path d="M544.4 504.0L545.4 504.0L546.4 504.0L547.4 504.0L548.4 504.0L549.4 504.0L550.4 504.0L551.4 504.0L552.4 504.0L553.4 504.0L554.4 504.0L555.4 504.0L556.4 504.0L557.4 504.0L558.4 504.0L559.4 504.0L560.4 504.0L561.4 504.0L562.4 504.0L563.4 504.0L564.4 504.0L565.4 504.0L566.4 504.0L567.4 504.0L568.4 504.0L569.4 504.0L570.4 504.0L571.4 504.0L572.4 504.0L573.4 504.0L574.4 504.0L575.4 504.0L576.4 504.0L577.4 504.0L578.4 504.0L579.4 504.0L580.4 504.0L581.4 504.0L582.4 504.0L583.4 504.0L584.4 504.0L585.4 504.0L586.4 504.0L587.4 504.0L588.4 504.0L589.4 504.0L590.4 503.8L591.4 501.7L592.4 499.7L593.4 497.7L594.4 495.6L595.4 493.6L596.4 491.6L597.4 489.6L598.4 487.6L599.4 485.7L600.4 483.7L601.4 481.8L602.4 479.9L603.4 478.0L604.4 476.1L605.4 474.3L606.4 472.4L607.4 470.6L608.4 468.8L609.4 467.0L610.4 465.2L611.4 463.4L612.4 461.6L613.4 459.9L614.4 458.1L615.4 456.4L616.4 454.6L617.4 452.9L618.4 451.2L619.4 449.5L620.4 447.9L621.4 446.4L622.4 445.1L623.4 443.8L624.4 442.7L625.4 441.7L626.4 440.4L627.4 438.8L628.4 437.1L629.4 435.4L630.4 433.8L631.4 432.4L632.4 431.2L633.4 429.9L634.4 428.8L635.4 427.8L636.4 426.8L637.4 425.9L638.4 425.1L639.4 424.4L640.4 423.8L641.4 423.3L642.4 422.8L643.4 422.4L644.4 422.2L645.4 421.9L646.4 421.7L647.4 421.5L648.4 421.4L649.4 421.3L650.4 421.2L651.4 421.2L652.4 421.1L653.4 421.1L654.4 421.1L655.4 421.1L656.4 421.1L657.4 421.1L658.4 421.2L659.4 421.2L660.4 421.2L661.4 421.3L662.4 421.3L663.4 421.4L664.4 421.4L665.4 421.5L666.4 421.5L667.4 421.5L668.4 421.6L669.4 421.6L670.4 421.6L671.4 421.7L672.4 421.7L673.4 421.7L674.4 421.7L675.4 421.7L676.4 421.7L677.4 421.7L678.4 421.6L679.4 421.6L680.4 421.6L681.4 421.6L682.4 421.5L683.4 421.5L684.4 421.4L685.4 421.4L686.4 421.3L687.4 421.3L688.4 421.3L689.4 421.2L690.4 421.2L691.4 421.1L692.4 421.1L693.4 421.1L694.4 421.1L695.4 421.1L696.4 421.1L697.4 421.1L698.4 421.2L699.4 421.3L700.4 421.4L701.4 421.5L702.4 421.7L703.4 421.9L704.4 422.1L705.4 422.4L706.4 422.7L707.4 423.2L708.4 423.7L709.4 424.3L710.4 425.0L711.4 425.8L712.4 426.6L713.4 427.6L714.4 428.6L715.4 429.7L716.4 430.9L717.4 432.2L718.4 433.5L719.4 435.1L720.4 436.8L721.4 438.5L722.4 440.1L723.4 441.4L724.4 442.4L725.4 443.6L726.4 444.8L727.4 446.1L728.4 447.6L729.4 449.1L730.4 450.8L731.4 452.6L732.4 454.3L733.4 456.0L734.4 457.8L735.4 459.5L736.4 461.3L737.4 463.0L738.4 464.8L739.4 466.6L740.4 468.4L741.4 470.2L742.4 472.0L743.4 473.9L744.4 475.7L745.4 477.6L746.4 479.5L747.4 481.4L748.4 483.3L749.4 485.3L750.4 487.2L751.4 489.2L752.4 491.2L753.4 493.2L754.4 495.2L755.4 497.3L756.4 499.3L757.4 501.3L758.4 503.4L759.4 504.0L760.4 504.0L761.4 504.0L762.4 504.0L763.4 504.0L764.4 504.0L765.4 504.0L766.4 504.0L767.4 504.0L768.4 504.0L769.4 504.0L770.4 504.0L771.4 504.0L772.4 504.0L773.4 504.0L774.4 504.0L775.4 504.0L776.4 504.0L777.4 504.0L778.4 504.0L779.4 504.0L780.4 504.0L781.4 504.0L782.4 504.0L783.4 504.0L784.4 504.0L785.4 504.0L786.4 504.0L787.4 504.0L788.4 504.0L789.4 504.0L790.4 504.0L791.4 504.0L792.4 504.0L793.4 504.0L794.4 504.0L795.4 504.0L796.4 504.0L797.4 504.0L798.4 504.0L799.4 504.0L800.4 504.0L801.4 504.0L802.4 504.0L803.4 504.0L804.4 504.0" stroke="#808080" stroke-width="2.0"/>
<path d="M544.4 504.0L545.4 504.0L546.4 504.0L547.4 504.0L548.4 504.0L549.4 504.0L550.4 504.0L551.4 504.0L552.4 504.0L553.4 504.0L554.4 504.0L555.4 504.0L556.4 504.0L557.4 504.0L558.4 504.0L559.4 504.0L560.4 504.0L561.4 504.0L562.4 504.0L563.4 504.0L564.4 504.0L565.4 504.0L566.4 504.0L567.4 504.0L568.4 504.0L569.4 504.0L570.4 504.0L571.4 504.0L572.4 504.0L573.4 504.0L574.4 504.0L575.4 504.0L576.4 504.0L577.4 504.0L578.4 504.0L579.4 504.0L580.4 504.0L581.4 504.0L582.4 504.0L583.4 504.0L584.4 504.0L585.4 504.0L586.4 504.0L587.4 504.0L588.4 504.0L589.4 504.0L590.4 504.0L591.4 504.0L592.4 504.0L593.4 504.0L594.4 504.0L595.4 504.0L596.4 504.0L597.4 504.0L598.4 502.7L599.4 500.5L600.4 498.4L601.4 496.2L602.4 494.0L603.4 491.9L604.4 489.7L605.4 487.6L606.4 485.5L607.4 483.4L608.4 481.3L609.4 479.2L610.4 477.1L611.4 475.1L612.4 473.0L613.4 470.9L614.4 468.8L615.4 466.8L616.4 464.7L617.4 462.7L618.4 460.6L619.4 458.5L620.4 456.6L621.4 454.8L622.4 453.2L623.4 451.7L624.4 450.3L625.4 449.1L626.4 447.5L627.4 445.5L628.4 443.3L629.4 441.1L630.4 439.1L631.4 437.3L632.4 435.6L633.4 434.0L634.4 432.5L635.4 431.0L636.4 429.7L637.4 428.4L638.4 427.2L639.4 426.1L640.4 425.2L641.4 424.3L642.4 423.5L643.4 422.8L644.4 422.2L645.4 421.6L646.4 421.2L647.4 420.7L648.4 420.3L649.4 420.0L650.4 419.7L651.4 419.5L652.4 419.3L653.4 419.1L654.4 419.0L655.4 418.9L656.4 418.8L657.4 418.7L658.4 418.6L659.4 418.6L660.4 418.6L661.4 418.6L662.4 418.6L663.4 418.6L664.4 418.6L665.4 418.6L666.4 418.6L667.4 418.6L668.4 418.7L669.4 418.7L670.4 418.7L671.4 418.7L672.4 418.7L673.4 418.7L674.4 418.7L675.4 418.7L676.4 418.7L677.4 418.7L678.4 418.7L679.4 418.7L680.4 418.7L681.4 418.6L682.4 418.6L683.4 418.6L684.4 418.6L685.4 418.6L686.4 418.6L687.4 418.6L688.4 418.6L689.4 418.6L690.4 418.6L691.4 418.7L692.4 418.7L693.4 418.8L694.4 418.9L695.4 419.1L696.4 419.2L697.4 419.4L698.4 419.7L699.4 420.0L700.4 420.3L701.4 420.6L702.4 421.1L703.4 421.5L704.4 422.1L705.4 422.7L706.4 423.3L707.4 424.1L708.4 425.0L709.4 425.9L710.4 427.0L711.4 428.2L712.4 429.4L713.4 430.7L714.4 432.2L715.4 433.7L716.4 435.3L717.4 437.0L718.4 438.7L719.4 440.7L720.4 442.9L721.4 445.1L722.4 447.1L723.4 448.8L724.4 450.0L725.4 451.4L726.4 452.9L727.4 454.5L728.4 456.2L729.4 458.1L730.4 460.2L731.4 462.2L732.4 464.3L733.4 466.4L734.4 468.4L735.4 470.5L736.4 472.6L737.4 474.6L738.4 476.7L739.4 478.8L740.4 480.9L741.4 483.0L742.4 485.1L743.4 487.2L744.4 489.3L745.4 491.5L746.4 493.6L747.4 495.8L748.4 497.9L749.4 500.1L750.4 502.3L751.4 504.0L752.4 504.0L753.4 504.0L754.4 504.0L755.4 504.0L756.4 504.0L757.4 504.0L758.4 504.0L759.4 504.0L760.4 504.0L761.4 504.0L762.4 504.0L763.4 504.0L764.4 504.0L765.4 504.0L766.4 504.0L767.4 504.0L768.4 504.0L769.4 504.0L770.4 504.0L771.4 504.0L772.4 504.0L773.4 504.0L774.4 504.0L775.4 504.0L776.4 504.0L777.4 504.0L778.4 504.0L779.4 504.0L780.4 504.0L781.4 504.0L782.4 504.0L783.4 504.0L784.4 504.0L785.4 504.0L786.4 504.0L787.4 504.0L788.4 504.0L789.4 504.0L790.4 504.0L791.4 504.0L792.4 504.0L793.4 504.0L794.4 504.0L795.4 504.0L796.4 504.0L797.4 504.0L798.4 504.0L799.4 504.0L800.4 504.0L801.4 504.0L802.4 504.0L803.4 504.0L804.4 504.0" stroke="#808080" stroke-width="2.0"/>
<path d="M544.4 504.0L545.4 504.0L546.4 504.0L547.4 504.0L548.4 504.0L549.4 504.0L550.4 504.0L551.4 504.0L552.4 504.0L553.4 504.0L554.4 504.0L555.4 504.0L556.4 504.0L557.4 504.0L558.4 504.0L559.4 504.0L560.4 504.0L561.4 504.0L562.4 504.0L563.4 504.0L564.4 504.0L565.4 504.0L566.4 504.0L567.4 504.0L568.4 504.0L569.4 504.0L570.4 504.0L571.4 504.0L572.4 504.0L573.4 504.0L574.4 504.0L575.4 504.0L576.4 504.0L577.4 504.0L578.4 504.0L579.4 504.0L580.4 504.0L581.4 504.0L582.4 504.0L583.4 504.0L584.4 504.0L585.4 504.0L586.4 504.0L587.4 504.0L588.4 504.0L589.4 504.0L590.4 504.0L591.4 504.0L592.4 504.0L593.4 504.0L594.4 504.0L595.4 504.0L596.4 504.0L597.4 504.0L598.4 504.0L599.4 504.0L600.4 504.0L601.4 504.0L602.4 504.0L603.4 504.0L604.4 502.2L605.4 499.8L606.4 497.4L607.4 495.1L608.4 492.7L609.4 490.4L610.4 488.0L611.4 485.7L612.4 483.3L613.4 481.0L614.4 478.6L615.4 476.3L616.4 473.9L617.4 471.6L618.4 469.2L619.4 466.8L620.4 464.6L621.4 462.5L622.4 460.7L623.4 458.9L624.4 457.3L625.4 455.9L626.4 454.1L627.4 451.7L628.4 449.1L629.4 446.5L630.4 444.1L631.4 441.9L632.4 439.8L633.4 437.8L634.4 435.9L635.4 434.1L636.4 432.4L637.4 430.8L638.4 429.3L639.4 427.9L640.4 426.5L641.4 425.3L642.4 424.2L643.4 423.1L644.4 422.2L645.4 421.3L646.4 420.6L647.4 419.8L648.4 419.2L649.4 418.6L650.4 418.1L651.4 417.6L652.4 417.2L653.4 416.9L654.4 416.6L655.4 416.3L656.4 416.1L657.4 415.9L658.4 415.7L659.4 415.6L660.4 415.5L661.4 415.4L662.4 415.4L663.4 415.3L664.4 415.3L665.4 415.3L666.4 415.2L667.4 415.2L668.4 415.2L669.4 415.2L670.4 415.2L671.4 415.2L672.4 415.2L673.4 415.2L674.4 415.2L675.4 415.2L676.4 415.2L677.4 415.2L678.4 415.2L679.4 415.2L680.4 415.2L681.4 415.2L682.4 415.2L683.4 415.2L684.4 415.3L685.4 415.3L686.4 415.3L687.4 415.4L688.4 415.5L689.4 415.6L690.4 415.7L691.4 415.9L692.4 416.0L693.4 416.3L694.4 416.5L695.4 416.8L696.4 417.2L697.4 417.5L698.4 418.0L699.4 418.5L700.4 419.1L701.4 419.7L702.4 420.4L703.4 421.2L704.4 422.0L705.4 422.9L706.4 424.0L707.4 425.1L708.4 426.3L709.4 427.6L710.4 429.0L711.4 430.5L712.4 432.1L713.4 433.8L714.4 435.6L715.4 437.4L716.4 439.4L717.4 441.5L718.4 443.6L719.4 446.0L720.4 448.6L721.4 451.2L722.4 453.6L723.4 455.6L724.4 457.0L725.4 458.6L726.4 460.3L727.4 462.2L728.4 464.1L729.4 466.3L730.4 468.7L731.4 471.1L732.4 473.4L733.4 475.8L734.4 478.2L735.4 480.5L736.4 482.9L737.4 485.2L738.4 487.6L739.4 489.9L740.4 492.2L741.4 494.6L742.4 497.0L743.4 499.3L744.4 501.7L745.4 504.0L746.4 504.0L747.4 504.0L748.4 504.0L749.4 504.0L750.4 504.0L751.4 504.0L752.4 504.0L753.4 504.0L754.4 504.0L755.4 504.0L756.4 504.0L757.4 504.0L758.4 504.0L759.4 504.0L760.4 504.0L761.4 504.0L762.4 504.0L763.4 504.0L764.4 504.0L765.4 504.0L766.4 504.0L767.4 504.0L768.4 504.0L769.4 504.0L770.4 504.0L771.4 504.0L772.4 504.0L773.4 504.0L774.4 504.0L775.4 504.0L776.4 504.0L777.4 504.0L778.4 504.0L779.4 504.0L780.4 504.0L781.4 504.0L782.4 504.0L783.4 504.0L784.4 504.0L785.4 504.0L786.4 504.0L787.4 504.0L788.4 504.0L789.4 504.0L790.4 504.0L791.4 504.0L792.4 504.0L793.4 504.0L794.4 504.0L795.4 504.0L796.4 504.0L797.4 504.0L798.4 504.0L799.4 504.0L800.4 504.0L801.4 504.0L802.4 504.0L803.4 504.0L804.4 504.0" stroke="#808080" stroke-width="2.0"/>
<path d="M544.4 504.0L545.4 504.0L546.4 504.0L547.4 504.0L548.4 504.0L549.4 504.0L550.4 504.0L551.4 504.0L552.4 504.0L553.4 504.0L554.4 504.0L555.4 504.0L556.4 504.0L557.4 504.0L558.4 504.0L559.4 504.0L560.4 504.0L561.4 504.0L562.4 504.0L563.4 504.0L564.4 504.0L565.4 504.0L566.4 504.0L567.4 504.0L568.4 504.0L569.4 504.0L570.4 504.0L571.4 504.0L572.4 504.0L573.4 504.0L574.4 504.0L575.4 504.0L576.4 504.0L577.4 504.0L578.4 504.0L579.4 504.0L580.4 504.0L581.4 504.0L582.4 504.0L583.4 504.0L584.4 504.0L585.4 504.0L586.4 504.0L587.4 504.0L588.4 504.0L589.4 504.0L590.4 504.0L591.4 504.0L592.4 504.0L593.4 504.0L594.4 504.0L595.4 504.0L596.4 504.0L597.4 504.0L598.4 504.0L599.4 504.0L600.4 504.0L601.4 504.0L602.4 504.0L603.4 504.0L604.4 504.0L605.4 504.0L606.4 504.0L607.4 504.0L608.4 502.6L609.4 500.0L610.4 497.4L611.4 494.9L612.4 492.3L613.4 489.7L614.4 487.1L615.4 484.5L616.4 481.8L617.4 479.2L618.4 476.6L619.4 473.9L620.4 471.5L621.4 469.2L622.4 467.1L623.4 465.2L624.4 463.4L625.4 461.8L626.4 459.7L627.4 457.1L628.4 454.2L629.4 451.2L630.4 448.4L631.4 445.9L632.4 443.5L633.4 441.2L634.4 439.0L635.4 436.9L636.4 434.9L637.4 433.0L638.4 431.2L639.4 429.4L640.4 427.8L641.4 426.3L642.4 424.8L643.4 423.5L644.4 422.2L645.4 421.1L646.4 420.0L647.4 419.0L648.4 418.0L649.4 417.2L650.4 416.4L651.4 415.7L652.4 415.1L653.4 414.5L654.4 414.0L655.4 413.6L656.4 413.2L657.4 412.8L658.4 412.6L659.4 412.3L660.4 412.1L661.4 411.9L662.4 411.8L663.4 411.7L664.4 411.6L665.4 411.5L666.4 411.4L667.4 411.4L668.4 411.4L669.4 411.3L670.4 411.3L671.4 411.3L672.4 411.3L673.4 411.3L674.4 411.3L675.4 411.3L676.4 411.3L677.4 411.3L678.4 411.3L679.4 411.3L680.4 411.4L681.4 411.4L682.4 411.4L683.4 411.5L684.4 411.6L685.4 411.6L686.4 411.8L687.4 411.9L688.4 412.1L689.4 412.3L690.4 412.5L691.4 412.8L692.4 413.1L693.4 413.5L694.4 413.9L695.4 414.4L696.4 415.0L697.4 415.6L698.4 416.3L699.4 417.0L700.4 417.9L701.4 418.8L702.4 419.8L703.4 420.8L704.4 422.0L705.4 423.2L706.4 424.5L707.4 426.0L708.4 427.5L709.4 429.1L710.4 430.8L711.4 432.6L712.4 434.5L713.4 436.5L714.4 438.6L715.4 440.8L716.4 443.1L717.4 445.4L718.4 447.9L719.4 450.6L720.4 453.6L721.4 456.5L722.4 459.3L723.4 461.5L724.4 463.0L725.4 464.8L726.4 466.7L727.4 468.8L728.4 471.0L729.4 473.4L730.4 476.0L731.4 478.7L732.4 481.3L733.4 483.9L734.4 486.6L735.4 489.2L736.4 491.8L737.4 494.3L738.4 496.9L739.4 499.5L740.4 502.1L741.4 504.0L742.4 504.0L743.4 504.0L744.4 504.0L745.4 504.0L746.4 504.0L747.4 504.0L748.4 504.0L749.4 504.0L750.4 504.0L751.4 504.0L752.4 504.0L753.4 504.0L754.4 504.0L755.4 504.0L756.4 504.0L757.4 504.0L758.4 504.0L759.4 504.0L760.4 504.0L761.4 504.0L762.4 504.0L763.4 504.0L764.4 504.0L765.4 504.0L766.4 504.0L767.4 504.0L768.4 504.0L769.4 504.0L770.4 504.0L771.4 504.0L772.4 504.0L773.4 504.0L774.4 504.0L775.4 504.0L776.4 504.0L777.4 504.0L778.4 504.0L779.4 504.0L780.4 504.0L781.4 504.0L782.4 504.0L783.4 504.0L784.4 504.0L785.4 504.0L786.4 504.0L787.4 504.0L788.4 504.0L789.4 504.0L790.4 504.0L791.4 504.0L792.4 504.0L793.4 504.0L794.4 504.0L795.4 504.0L796.4 504.0L797.4 504.0L798.4 504.0L799.4 504.0L800.4 504.0L801.4 504.0L802.4 504.0L803.4 504.0L804.4 504.0" stroke="#808080" stroke-width="2.0"/>
<path d="M544.4 504.0L545.4 504.0L546.4 504.0L547.4 504.0L548.4 504.0L549.4 504.0L550.4 504.0L551.4 504.0L552.4 504.0L553.4 504.0L554.4 504.0L555.4 504.0L556.4 504.0L557.4 504.0L558.4 504.0L559.4 504.0L560.4 504.0L561.4 504.0L562.4 504.0L563.4 504.0L564.4 504.0L565.4 504.0L566.4 504.0L567.4 504.0L568.4 504.0L569.4 504.0L570.4 504.0L571.4 504.0L572.4 504.0L573.4 504.0L574.4 504.0L575.4 504.0L576.4 504.0L577.4 504.0L578.4 504.0L579.4 504.0L580.4 504.0L581.4 504.0L582.4 504.0L583.4 504.0L584.4 504.0L585.4 504.0L586.4 504.0L587.4 504.0L588.4 504.0L589.4 504.0L590.4 504.0L591.4 504.0L592.4 504.0L593.4 504.0L594.4 504.0L595.4 504.0L596.4 504.0L597.4 504.0L598.4 504.0L599.4 504.0L600.4 504.0L601.4 504.0L602.4 504.0L603.4 504.0L604.4 504.0L605.4 504.0L606.4 504.0L607.4 504.0L608.4 504.0L609.4 504.0L610.4 504.0L611.4 502.3L612.4 499.5L613.4 496.7L614.4 493.9L615.4 491.1L616.4 488.3L617.4 485.5L618.4 482.6L619.4 479.7L620.4 477.1L621.4 474.6L622.4 472.4L623.4 470.2L624.4 468.3L625.4 466.6L626.4 464.4L627.4 461.5L628.4 458.3L629.4 455.0L630.4 451.9L631.4 449.2L632.4 446.6L633.4 444.0L634.4 441.6L635.4 439.3L636.4 437.0L637.4 434.8L638.4 432.8L639.4 430.8L640.4 428.9L641.4 427.1L642.4 425.4L643.4 423.8L644.4 422.2L645.4 420.8L646.4 419.5L647.4 418.2L648.4 417.0L649.4 415.9L650.4 414.9L651.4 413.9L652.4 413.0L653.4 412.2L654.4 411.5L655.4 410.9L656.4 410.3L657.4 409.8L658.4 409.3L659.4 408.9L660.4 408.6L661.4 408.3L662.4 408.0L663.4 407.8L664.4 407.6L665.4 407.5L666.4 407.4L667.4 407.3L668.4 407.2L669.4 407.1L670.4 407.1L671.4 407.1L672.4 407.0L673.4 407.0L674.4 407.0L675.4 407.0L676.4 407.0L677.4 407.1L678.4 407.1L679.4 407.1L680.4 407.2L681.4 407.2L682.4 407.3L683.4 407.4L684.4 407.6L685.4 407.8L686.4 408.0L687.4 408.2L688.4 408.5L689.4 408.8L690.4 409.2L691.4 409.7L692.4 410.2L693.4 410.7L694.4 411.4L695.4 412.1L696.4 412.9L697.4 413.7L698.4 414.7L699.4 415.7L700.4 416.8L701.4 417.9L702.4 419.2L703.4 420.5L704.4 422.0L705.4 423.5L706.4 425.1L707.4 426.7L708.4 428.5L709.4 430.4L710.4 432.4L711.4 434.4L712.4 436.6L713.4 438.8L714.4 441.1L715.4 443.5L716.4 446.1L717.4 448.7L718.4 451.4L719.4 454.4L720.4 457.6L721.4 460.9L722.4 463.8L723.4 466.3L724.4 467.9L725.4 469.8L726.4 471.9L727.4 474.2L728.4 476.6L729.4 479.2L730.4 482.0L731.4 484.9L732.4 487.7L733.4 490.5L734.4 493.4L735.4 496.2L736.4 498.9L737.4 501.7L738.4 504.0L739.4 504.0L740.4 504.0L741.4 504.0L742.4 504.0L743.4 504.0L744.4 504.0L745.4 504.0L746.4 504.0L747.4 504.0L748.4 504.0L749.4 504.0L750.4 504.0L751.4 504.0L752.4 504.0L753.4 504.0L754.4 504.0L755.4 504.0L756.4 504.0L757.4 504.0L758.4 504.0L759.4 504.0L760.4 504.0L761.4 504.0L762.4 504.0L763.4 504.0L764.4 504.0L765.4 504.0L766.4 504.0L767.4 504.0L768.4 504.0L769.4 504.0L770.4 504.0L771.4 504.0L772.4 504.0L773.4 504.0L774.4 504.0L775.4 504.0L776.4 504.0L777.4 504.0L778.4 504.0L779.4 504.0L780.4 504.0L781.4 504.0L782.4 504.0L783.4 504.0L784.4 504.0L785.4 504.0L786.4 504.0L787.4 504.0L788.4 504.0L789.4 504.0L790.4 504.0L791.4 504.0L792.4 504.0L793.4 504.0L794.4 504.0L795.4 504.0L796.4 504.0L797.4 504.0L798.4 504.0L799.4 504.0L800.4 504.0L801.4 504.0L802.4 504.0L803.4 504.0L804.4 504.0" stroke="#808080" stroke-width="2.0"/>
<path d="M544.4 504.0L545.4 504.0L546.4 504.0L547.4 504.0L548.4 504.0L549.4 504.0L550.4 504.0L551.4 504.0L552.4 504.0L553.4 504.0L554.4 504.0L555.4 504.0L556.4 504.0L557.4 504.0L558.4 504.0L559.4 504.0L560.4 504.0L561.4 504.0L562.4 504.0L563.4 504.0L564.4 504.0L565.4 504.0L566.4 504.0L567.4 504.0L568.4 504.0L569.4 504.0L570.4 504.0L571.4 504.0L572.4 504.0L573.4 504.0L574.4 504.0L575.4 504.0L576.4 504.0L577.4 504.0L578.4 504.0L579.4 504.0L580.4 504.0L581.4 504.0L582.4 504.0L583.4 504.0L584.4 504.0L585.4 504.0L586.4 504.0L587.4 504.0L588.4 504.0L589.4 504.0L590.4 504.0L591.4 504.0L592.4 504.0L593.4 504.0L594.4 504.0L595.4 504.0L596.4 504.0L597.4 504.0L598.4 504.0L599.4 504.0L600.4 504.0L601.4 504.0L602.4 504.0L603.4 504.0L604.4 504.0L605.4 504.0L606.4 504.0L607.4 504.0L608.4 504.0L609.4 504.0L610.4 504.0L611.4 504.0L612.4 504.0L613.4 501.9L614.4 498.9L615.4 496.0L616.4 493.0L617.4 490.0L618.4 487.0L619.4 484.0L620.4 481.2L621.4 478.6L622.4 476.2L623.4 474.0L624.4 471.9L625.4 470.2L626.4 467.8L627.4 464.7L628.4 461.3L629.4 457.8L630.4 454.6L631.4 451.7L632.4 448.8L633.4 446.1L634.4 443.5L635.4 441.0L636.4 438.5L637.4 436.2L638.4 433.9L639.4 431.8L640.4 429.7L641.4 427.7L642.4 425.8L643.4 424.0L644.4 422.3L645.4 420.6L646.4 419.0L647.4 417.6L648.4 416.1L649.4 414.8L650.4 413.6L651.4 412.4L652.4 411.3L653.4 410.3L654.4 409.3L655.4 408.4L656.4 407.6L657.4 406.9L658.4 406.2L659.4 405.7L660.4 405.1L661.4 404.7L662.4 404.3L663.4 403.9L664.4 403.6L665.4 403.4L666.4 403.2L667.4 403.0L668.4 402.9L669.4 402.8L670.4 402.7L671.4 402.6L672.4 402.6L673.4 402.6L674.4 402.6L675.4 402.6L676.4 402.6L677.4 402.6L678.4 402.7L679.4 402.8L680.4 402.9L681.4 403.0L682.4 403.2L683.4 403.4L684.4 403.6L685.4 403.9L686.4 404.2L687.4 404.6L688.4 405.0L689.4 405.6L690.4 406.1L691.4 406.8L692.4 407.5L693.4 408.3L694.4 409.1L695.4 410.1L696.4 411.1L697.4 412.1L698.4 413.3L699.4 414.5L700.4 415.9L701.4 417.3L702.4 418.7L703.4 420.3L704.4 421.9L705.4 423.6L706.4 425.4L707.4 427.3L708.4 429.3L709.4 431.4L710.4 433.5L711.4 435.7L712.4 438.1L713.4 440.5L714.4 443.0L715.4 445.6L716.4 448.3L717.4 451.1L718.4 454.0L719.4 457.1L720.4 460.6L721.4 464.1L722.4 467.2L723.4 469.8L724.4 471.5L725.4 473.5L726.4 475.8L727.4 478.1L728.4 480.6L729.4 483.4L730.4 486.4L731.4 489.4L732.4 492.4L733.4 495.4L734.4 498.3L735.4 501.3L736.4 504.0L737.4 504.0L738.4 504.0L739.4 504.0L740.4 504.0L741.4 504.0L742.4 504.0L743.4 504.0L744.4 504.0L745.4 504.0L746.4 504.0L747.4 504.0L748.4 504.0L749.4 504.0L750.4 504.0L751.4 504.0L752.4 504.0L753.4 504.0L754.4 504.0L755.4 504.0L756.4 504.0L757.4 504.0L758.4 504.0L759.4 504.0L760.4 504.0L761.4 504.0L762.4 504.0L763.4 504.0L764.4 504.0L765.4 504.0L766.4 504.0L767.4 504.0L768.4 504.0L769.4 504.0L770.4 504.0L771.4 504.0L772.4 504.0L773.4 504.0L774.4 504.0L775.4 504.0L776.4 504.0L777.4 504.0L778.4 504.0L779.4 504.0L780.4 504.0L781.4 504.0L782.4 504.0L783.4 504.0L784.4 504.0L785.4 504.0L786.4 504.0L787.4 504.0L788.4 504.0L789.4 504.0L790.4 504.0L791.4 504.0L792.4 504.0L793.4 504.0L794.4 504.0L795.4 504.0L796.4 504.0L797.4 504.0L798.4 504.0L799.4 504.0L800.4 504.0L801.4 504.0L802.4 504.0L803.4 504.0L804.4 504.0" stroke="#808080" stroke-width="2.0"/>
<path d="M544.4 504.0L545.4 504.0L546.4 504.0L547.4 504.0L548.4 504.0L549.4 504.0L550.4 504.0L551.4 504.0L552.4 504.0L553.4 504.0L554.4 504.0L555.4 504.0L556.4 504.0L557.4 504.0L558.4 504.0L559.4 504.0L560.4 504.0L561.4 504.0L562.4 504.0L563.4 504.0L564.4 504.0L565.4 504.0L566.4 504.0L567.4 504.0L568.4 504.0L569.4 504.0L570.4 504.0L571.4 504.0L572.4 504.0L573.4 504.0L574.4 504.0L575.4 504.0L576.4 504.0L577.4 504.0L578.4 504.0L579.4 504.0L580.4 504.0L581.4 504.0L582.4 504.0L583.4 504.0L584.4 504.0L585.4 504.0L586.4 504.0L587.4 504.0L588.4 504.0L589.4 504.0L590.4 504.0L591.4 504.0L592.4 504.0L593.4 504.0L594.4 504.0L595.4 504.0L596.4 504.0L597.4 504.0L598.4 504.0L599.4 504.0L600.4 504.0L601.4 504.0L602.4 504.0L603.4 504.0L604.4 504.0L605.4 504.0L606.4 504.0L607.4 504.0L608.4 504.0L609.4 504.0L610.4 504.0L611.4 504.0L612.4 504.0L613.4 504.0L614.4 502.0L615.4 498.9L616.4 495.9L617.4 492.8L618.4 489.7L619.4 486.6L620.4 483.7L621.4 481.0L622.4 478.6L623.4 476.3L624.4 474.1L625.4 472.3L626.4 469.9L627.4 466.7L628.4 463.2L629.4 459.6L630.4 456.2L631.4 453.1L632.4 450.2L633.4 447.4L634.4 444.7L635.4 442.0L636.4 439.5L637.4 437.0L638.4 434.7L639.4 432.4L640.4 430.2L641.4 428.1L642.4 426.1L643.4 424.1L644.4 422.3L645.4 420.5L646.4 418.8L647.4 417.1L648.4 415.6L649.4 414.1L650.4 412.7L651.4 411.3L652.4 410.1L653.4 408.9L654.4 407.7L655.4 406.7L656.4 405.7L657.4 404.8L658.4 403.9L659.4 403.1L660.4 402.4L661.4 401.8L662.4 401.2L663.4 400.6L664.4 400.2L665.4 399.8L666.4 399.4L667.4 399.1L668.4 398.9L669.4 398.7L670.4 398.5L671.4 398.4L672.4 398.3L673.4 398.3L674.4 398.2L675.4 398.3L676.4 398.3L677.4 398.4L678.4 398.5L679.4 398.6L680.4 398.8L681.4 399.1L682.4 399.4L683.4 399.7L684.4 400.1L685.4 400.5L686.4 401.1L687.4 401.6L688.4 402.3L689.4 403.0L690.4 403.8L691.4 404.6L692.4 405.5L693.4 406.5L694.4 407.5L695.4 408.6L696.4 409.8L697.4 411.1L698.4 412.4L699.4 413.8L700.4 415.3L701.4 416.8L702.4 418.4L703.4 420.1L704.4 421.9L705.4 423.8L706.4 425.7L707.4 427.7L708.4 429.8L709.4 432.0L710.4 434.2L711.4 436.6L712.4 439.0L713.4 441.5L714.4 444.1L715.4 446.9L716.4 449.7L717.4 452.6L718.4 455.6L719.4 458.8L720.4 462.4L721.4 466.0L722.4 469.3L723.4 471.9L724.4 473.8L725.4 475.8L726.4 478.1L727.4 480.5L728.4 483.1L729.4 486.0L730.4 489.1L731.4 492.2L732.4 495.3L733.4 498.3L734.4 501.4L735.4 504.0L736.4 504.0L737.4 504.0L738.4 504.0L739.4 504.0L740.4 504.0L741.4 504.0L742.4 504.0L743.4 504.0L744.4 504.0L745.4 504.0L746.4 504.0L747.4 504.0L748.4 504.0L749.4 504.0L750.4 504.0L751.4 504.0L752.4 504.0L753.4 504.0L754.4 504.0L755.4 504.0L756.4 504.0L757.4 504.0L758.4 504.0L759.4 504.0L760.4 504.0L761.4 504.0L762.4 504.0L763.4 504.0L764.4 504.0L765.4 504.0L766.4 504.0L767.4 504.0L768.4 504.0L769.4 504.0L770.4 504.0L771.4 504.0L772.4 504.0L773.4 504.0L774.4 504.0L775.4 504.0L776.4 504.0L777.4 504.0L778.4 504.0L779.4 504.0L780.4 504.0L781.4 504.0L782.4 504.0L783.4 504.0L784.4 504.0L785.4 504.0L786.4 504.0L787.4 504.0L788.4 504.0L789.4 504.0L790.4 504.0L791.4 504.0L792.4 504.0L793.4 504.0L794.4 504.0L795.4 504.0L796.4 504.0L797.4 504.0L798.4 504.0L799.4 504.0L800.4 504.0L801.4 504.0L802.4 504.0L803.4 504.0L804.4 504.0" stroke="#808080" stroke-width="2.0"/>
<path d="M544.4 515.6L545.4 514.2L546.4 512.8L547.4 511.4L548.4 510.1L549.4 508.7L550.4 507.3L551.4 505.9L552.4 504.6L553.4 503.2L554.4 501.8L555.4 500.5L556.4 499.1L557.4 497.7L558.4 496.4L559.4 495.0L560.4 493.6L561.4 492.3L562.4 490.9L563.4 489.5L564.4 488.2L565.4 486.8L566.4 485.4L567.4 484.1L568.4 482.7L569.4 481.3L570.4 480.0L571.4 478.6L572.4 477.2L573.4 475.9L574.4 474.5L575.4 473.2L576.4 471.8L577.4 470.4L578.4 469.1L579.4 467.7L580.4 466.4L581.4 465.0L582.4 463.7L583.4 462.3L584.4 460.9L585.4 459.6L586.4 458.2L587.4 456.9L588.4 455.5L589.4 454.1L590.4 452.8L591.4 451.4L592.4 450.0L593.4 448.7L594.4 447.3L595.4 446.0L596.4 444.7L597.4 443.3L598.4 441.9L599.4 440.6L600.4 439.2L601.4 437.9L602.4 436.5L603.4 435.1L604.4 433.7L605.4 432.3L606.4 430.9L607.4 429.6L608.4 428.3L609.4 427.1L610.4 426.0L611.4 425.0L612.4 424.0L613.4 423.0L614.4 421.9L615.4 420.9L616.4 419.8L617.4 418.7L618.4 417.7L619.4 416.6L620.4 415.6L621.4 414.5L622.4 413.4L623.4 412.4L624.4 411.3L625.4 410.3L626.4 409.2L627.4 408.2L628.4 407.1L629.4 406.0L630.4 404.9L631.4 403.8L632.4 402.7L633.4 401.6L634.4 400.5L635.4 399.3L636.4 398.1L637.4 396.9L638.4 395.7L639.4 394.5L640.4 393.4L641.4 392.4L642.4 391.5L643.4 390.7L644.4 389.9L645.4 389.2L646.4 388.5L647.4 387.9L648.4 387.3L649.4 386.8L650.4 386.4L651.4 386.0L652.4 385.5L653.4 385.2L654.4 384.8L655.4 384.5L656.4 384.3L657.4 384.2L658.4 384.2L659.4 384.2L660.4 384.4L661.4 384.6L662.4 384.8L663.4 385.0L664.4 385.3L665.4 385.5L666.4 385.7L667.4 385.9L668.4 386.2L669.4 386.4L670.4 386.6L671.4 386.9L672.4 387.0L673.4 387.1L674.4 387.2L675.4 387.2L676.4 387.1L677.4 386.9L678.4 386.7L679.4 386.5L680.4 386.2L681.4 386.0L682.4 385.8L683.4 385.6L684.4 385.3L685.4 385.1L686.4 384.8L687.4 384.6L688.4 384.4L689.4 384.3L690.4 384.2L691.4 384.2L692.4 384.3L693.4 384.5L694.4 384.7L695.4 385.1L696.4 385.5L697.4 385.9L698.4 386.3L699.4 386.8L700.4 387.2L701.4 387.8L702.4 388.4L703.4 389.0L704.4 389.7L705.4 390.5L706.4 391.3L707.4 392.2L708.4 393.1L709.4 394.2L710.4 395.4L711.4 396.7L712.4 397.9L713.4 399.1L714.4 400.2L715.4 401.4L716.4 402.5L717.4 403.6L718.4 404.7L719.4 405.8L720.4 406.9L721.4 408.0L722.4 409.0L723.4 410.1L724.4 411.1L725.4 412.2L726.4 413.2L727.4 414.3L728.4 415.4L729.4 416.4L730.4 417.5L731.4 418.5L732.4 419.6L733.4 420.6L734.4 421.7L735.4 422.8L736.4 423.8L737.4 424.8L738.4 425.8L739.4 426.9L740.4 428.0L741.4 429.3L742.4 430.7L743.4 432.1L744.4 433.5L745.4 434.8L746.4 436.2L747.4 437.6L748.4 439.0L749.4 440.3L750.4 441.7L751.4 443.0L752.4 444.4L753.4 445.7L754.4 447.1L755.4 448.4L756.4 449.8L757.4 451.1L758.4 452.5L759.4 453.9L760.4 455.2L761.4 456.6L762.4 457.9L763.4 459.3L764.4 460.7L765.4 462.0L766.4 463.4L767.4 464.7L768.4 466.1L769.4 467.5L770.4 468.8L771.4 470.2L772.4 471.5L773.4 472.9L774.4 474.3L775.4 475.6L776.4 477.0L777.4 478.3L778.4 479.7L779.4 481.1L780.4 482.4L781.4 483.8L782.4 485.2L783.4 486.5L784.4 487.9L785.4 489.3L786.4 490.6L787.4 492.0L788.4 493.4L789.4 494.7L790.4 496.1L791.4 497.5L792.4 498.8L793.4 500.2L794.4 501.6L795.4 502.9L796.4 504.3L797.4 505.7L798.4 507.0L799.4 508.4L800.4 509.8L801.4 511.2L802.4 512.5L803.4 513.9L804.4 515.3" stroke="#ff0000" stroke-width="2.4"/>
<path d="M544.4 268.4L545.4 269.8L546.4 271.2L547.4 272.6L548.4 273.9L549.4 275.3L550.4 276.7L551.4 278.1L552.4 279.4L553.4 280.8L554.4 282.2L555.4 283.5L556.4 284.9L557.4 286.3L558.4 287.6L559.4 289.0L560.4 290.4L561.4 291.7L562.4 293.1L563.4 294.5L564.4 295.8L565.4 297.2L566.4 298.6L567.4 299.9L568.4 301.3L569.4 302.7L570.4 304.0L571.4 305.4L572.4 306.8L573.4 308.1L574.4 309.5L575.4 310.8L576.4 312.2L577.4 313.6L578.4 314.9L579.4 316.3L580.4 317.6L581.4 319.0L582.4 320.3L583.4 321.7L584.4 323.1L585.4 324.4L586.4 325.8L587.4 327.1L588.4 328.5L589.4 329.9L590.4 331.2L591.4 332.6L592.4 334.0L593.4 335.3L594.4 336.7L595.4 338.0L596.4 339.3L597.4 340.7L598.4 342.1L599.4 343.4L600.4 344.8L601.4 346.1L602.4 347.5L603.4 348.9L604.4 350.3L605.4 351.7L606.4 353.1L607.4 354.4L608.4 355.7L609.4 356.9L610.4 358.0L611.4 359.0L612.4 360.0L613.4 361.0L614.4 362.1L615.4 363.1L616.4 364.2L617.4 365.3L618.4 366.3L619.4 367.4L620.4 368.4L621.4 369.5L622.4 370.6L623.4 371.6L624.4 372.7L625.4 373.7L626.4 374.8L627.4 375.8L628.4 376.9L629.4 378.0L630.4 379.1L631.4 380.2L632.4 381.3L633.4 382.4L634.4 383.5L635.4 384.7L636.4 385.9L637.4 387.1L638.4 388.3L639.4 389.5L640.4 390.6L641.4 391.6L642.4 392.5L643.4 393.3L644.4 394.1L645.4 394.8L646.4 395.5L647.4 396.1L648.4 396.7L649.4 397.2L650.4 397.6L651.4 398.0L652.4 398.5L653.4 398.8L654.4 399.2L655.4 399.5L656.4 399.7L657.4 399.8L658.4 399.8L659.4 399.8L660.4 399.6L661.4 399.4L662.4 399.2L663.4 399.0L664.4 398.7L665.4 398.5L666.4 398.3L667.4 398.1L668.4 397.8L669.4 397.6L670.4 397.4L671.4 397.1L672.4 397.0L673.4 396.9L674.4 396.8L675.4 396.8L676.4 396.9L677.4 397.1L678.4 397.3L679.4 397.5L680.4 397.8L681.4 398.0L682.4 398.2L683.4 398.4L684.4 398.7L685.4 398.9L686.4 399.2L687.4 399.4L688.4 399.6L689.4 399.7L690.4 399.8L691.4 399.8L692.4 399.7L693.4 399.5L694.4 399.3L695.4 398.9L696.4 398.5L697.4 398.1L698.4 397.7L699.4 397.2L700.4 396.8L701.4 396.2L702.4 395.6L703.4 395.0L704.4 394.3L705.4 393.5L706.4 392.7L707.4 391.8L708.4 390.9L709.4 389.8L710.4 388.6L711.4 387.3L712.4 386.1L713.4 384.9L714.4 383.8L715.4 382.6L716.4 381.5L717.4 380.4L718.4 379.3L719.4 378.2L720.4 377.1L721.4 376.0L722.4 375.0L723.4 373.9L724.4 372.9L725.4 371.8L726.4 370.8L727.4 369.7L728.4 368.6L729.4 367.6L730.4 366.5L731.4 365.5L732.4 364.4L733.4 363.4L734.4 362.3L735.4 361.2L736.4 360.2L737.4 359.2L738.4 358.2L739.4 357.1L740.4 356.0L741.4 354.7L742.4 353.3L743.4 351.9L744.4 350.5L745.4 349.2L746.4 347.8L747.4 346.4L748.4 345.0L749.4 343.7L750.4 342.3L751.4 341.0L752.4 339.6L753.4 338.3L754.4 336.9L755.4 335.6L756.4 334.2L757.4 332.9L758.4 331.5L759.4 330.1L760.4 328.8L761.4 327.4L762.4 326.1L763.4 324.7L764.4 323.3L765.4 322.0L766.4 320.6L767.4 319.3L768.4 317.9L769.4 316.5L770.4 315.2L771.4 313.8L772.4 312.5L773.4 311.1L774.4 309.7L775.4 308.4L776.4 307.0L777.4 305.7L778.4 304.3L779.4 302.9L780.4 301.6L781.4 300.2L782.4 298.8L783.4 297.5L784.4 296.1L785.4 294.7L786.4 293.4L787.4 292.0L788.4 290.6L789.4 289.3L790.4 287.9L791.4 286.5L792.4 285.2L793.4 283.8L794.4 282.4L795.4 281.1L796.4 279.7L797.4 278.3L798.4 277.0L799.4 275.6L800.4 274.2L801.4 272.8L802.4 271.5L803.4 270.1L804.4 268.7" stroke="#0000ff" stroke-width="2.4"/>
</g>
<rect x="544.4" y="312.3" width="260.1" height="160.39999999999998" fill="none" stroke="#8c8c8c" stroke-width="0.9"/>
<path d="M544.4 472.0h2.1M804.5 472.0h-2.1M544.4 464.0h2.1M804.5 464.0h-2.1M544.4 456.0h3.4M804.5 456.0h-3.4M544.4 448.0h2.1M804.5 448.0h-2.1M544.4 440.0h2.1M804.5 440.0h-2.1M544.4 432.0h2.1M804.5 432.0h-2.1M544.4 424.0h3.4M804.5 424.0h-3.4M544.4 416.0h2.1M804.5 416.0h-2.1M544.4 408.0h2.1M804.5 408.0h-2.1M544.4 400.0h2.1M804.5 400.0h-2.1M544.4 392.0h3.4M804.5 392.0h-3.4M544.4 384.0h2.1M804.5 384.0h-2.1M544.4 376.0h2.1M804.5 376.0h-2.1M544.4 368.0h2.1M804.5 368.0h-2.1M544.4 360.0h3.4M804.5 360.0h-3.4M544.4 352.0h2.1M804.5 352.0h-2.1M544.4 344.0h2.1M804.5 344.0h-2.1M544.4 336.0h2.1M804.5 336.0h-2.1M544.4 328.0h3.4M804.5 328.0h-3.4M544.4 320.0h2.1M804.5 320.0h-2.1M544.4 312.0h2.1M804.5 312.0h-2.1M544.4 472.7v-2.6M544.4 312.3v2.6M557.4 472.7v-1.5M557.4 312.3v1.5M570.4 472.7v-1.5M570.4 312.3v1.5M583.4 472.7v-1.5M583.4 312.3v1.5M596.4 472.7v-1.5M596.4 312.3v1.5M609.4 472.7v-1.5M609.4 312.3v1.5M622.4 472.7v-1.5M622.4 312.3v1.5M635.4 472.7v-1.5M635.4 312.3v1.5M648.4 472.7v-1.5M648.4 312.3v1.5M661.4 472.7v-1.5M661.4 312.3v1.5M674.5 472.7v-2.6M674.5 312.3v2.6M687.5 472.7v-1.5M687.5 312.3v1.5M700.5 472.7v-1.5M700.5 312.3v1.5M713.5 472.7v-1.5M713.5 312.3v1.5M726.5 472.7v-1.5M726.5 312.3v1.5M739.5 472.7v-1.5M739.5 312.3v1.5M752.5 472.7v-1.5M752.5 312.3v1.5M765.5 472.7v-1.5M765.5 312.3v1.5M778.5 472.7v-1.5M778.5 312.3v1.5M791.5 472.7v-1.5M791.5 312.3v1.5M804.5 472.7v-2.6M804.5 312.3v2.6" stroke="#8c8c8c" stroke-width="0.9" fill="none"/>
<g font-family="Liberation Sans, sans-serif" font-size="28.5" fill="#666666" text-anchor="end">
<text x="541.5" y="338.3">4</text>
<text x="541.5" y="370.3">2</text>
<text x="541.5" y="402.3">0</text>
<text x="541.5" y="434.3">−2</text>
<text x="541.5" y="466.3">−4</text>
</g>
<text font-family="Liberation Serif, serif" font-style="italic" font-size="30" fill="#1a1a1a" x="491" y="402.5">E</text>
<g font-family="Liberation Serif, serif" font-style="italic" font-size="28.5" fill="#1a1a1a"><text x="533.8" y="498.8">M</text><text x="788.2" y="498.8">M</text></g>
<text font-family="Liberation Serif, serif" font-size="28.5" fill="#1a1a1a" x="664.8" y="498.8">Γ</text>
</g>
</svg></body></html>
